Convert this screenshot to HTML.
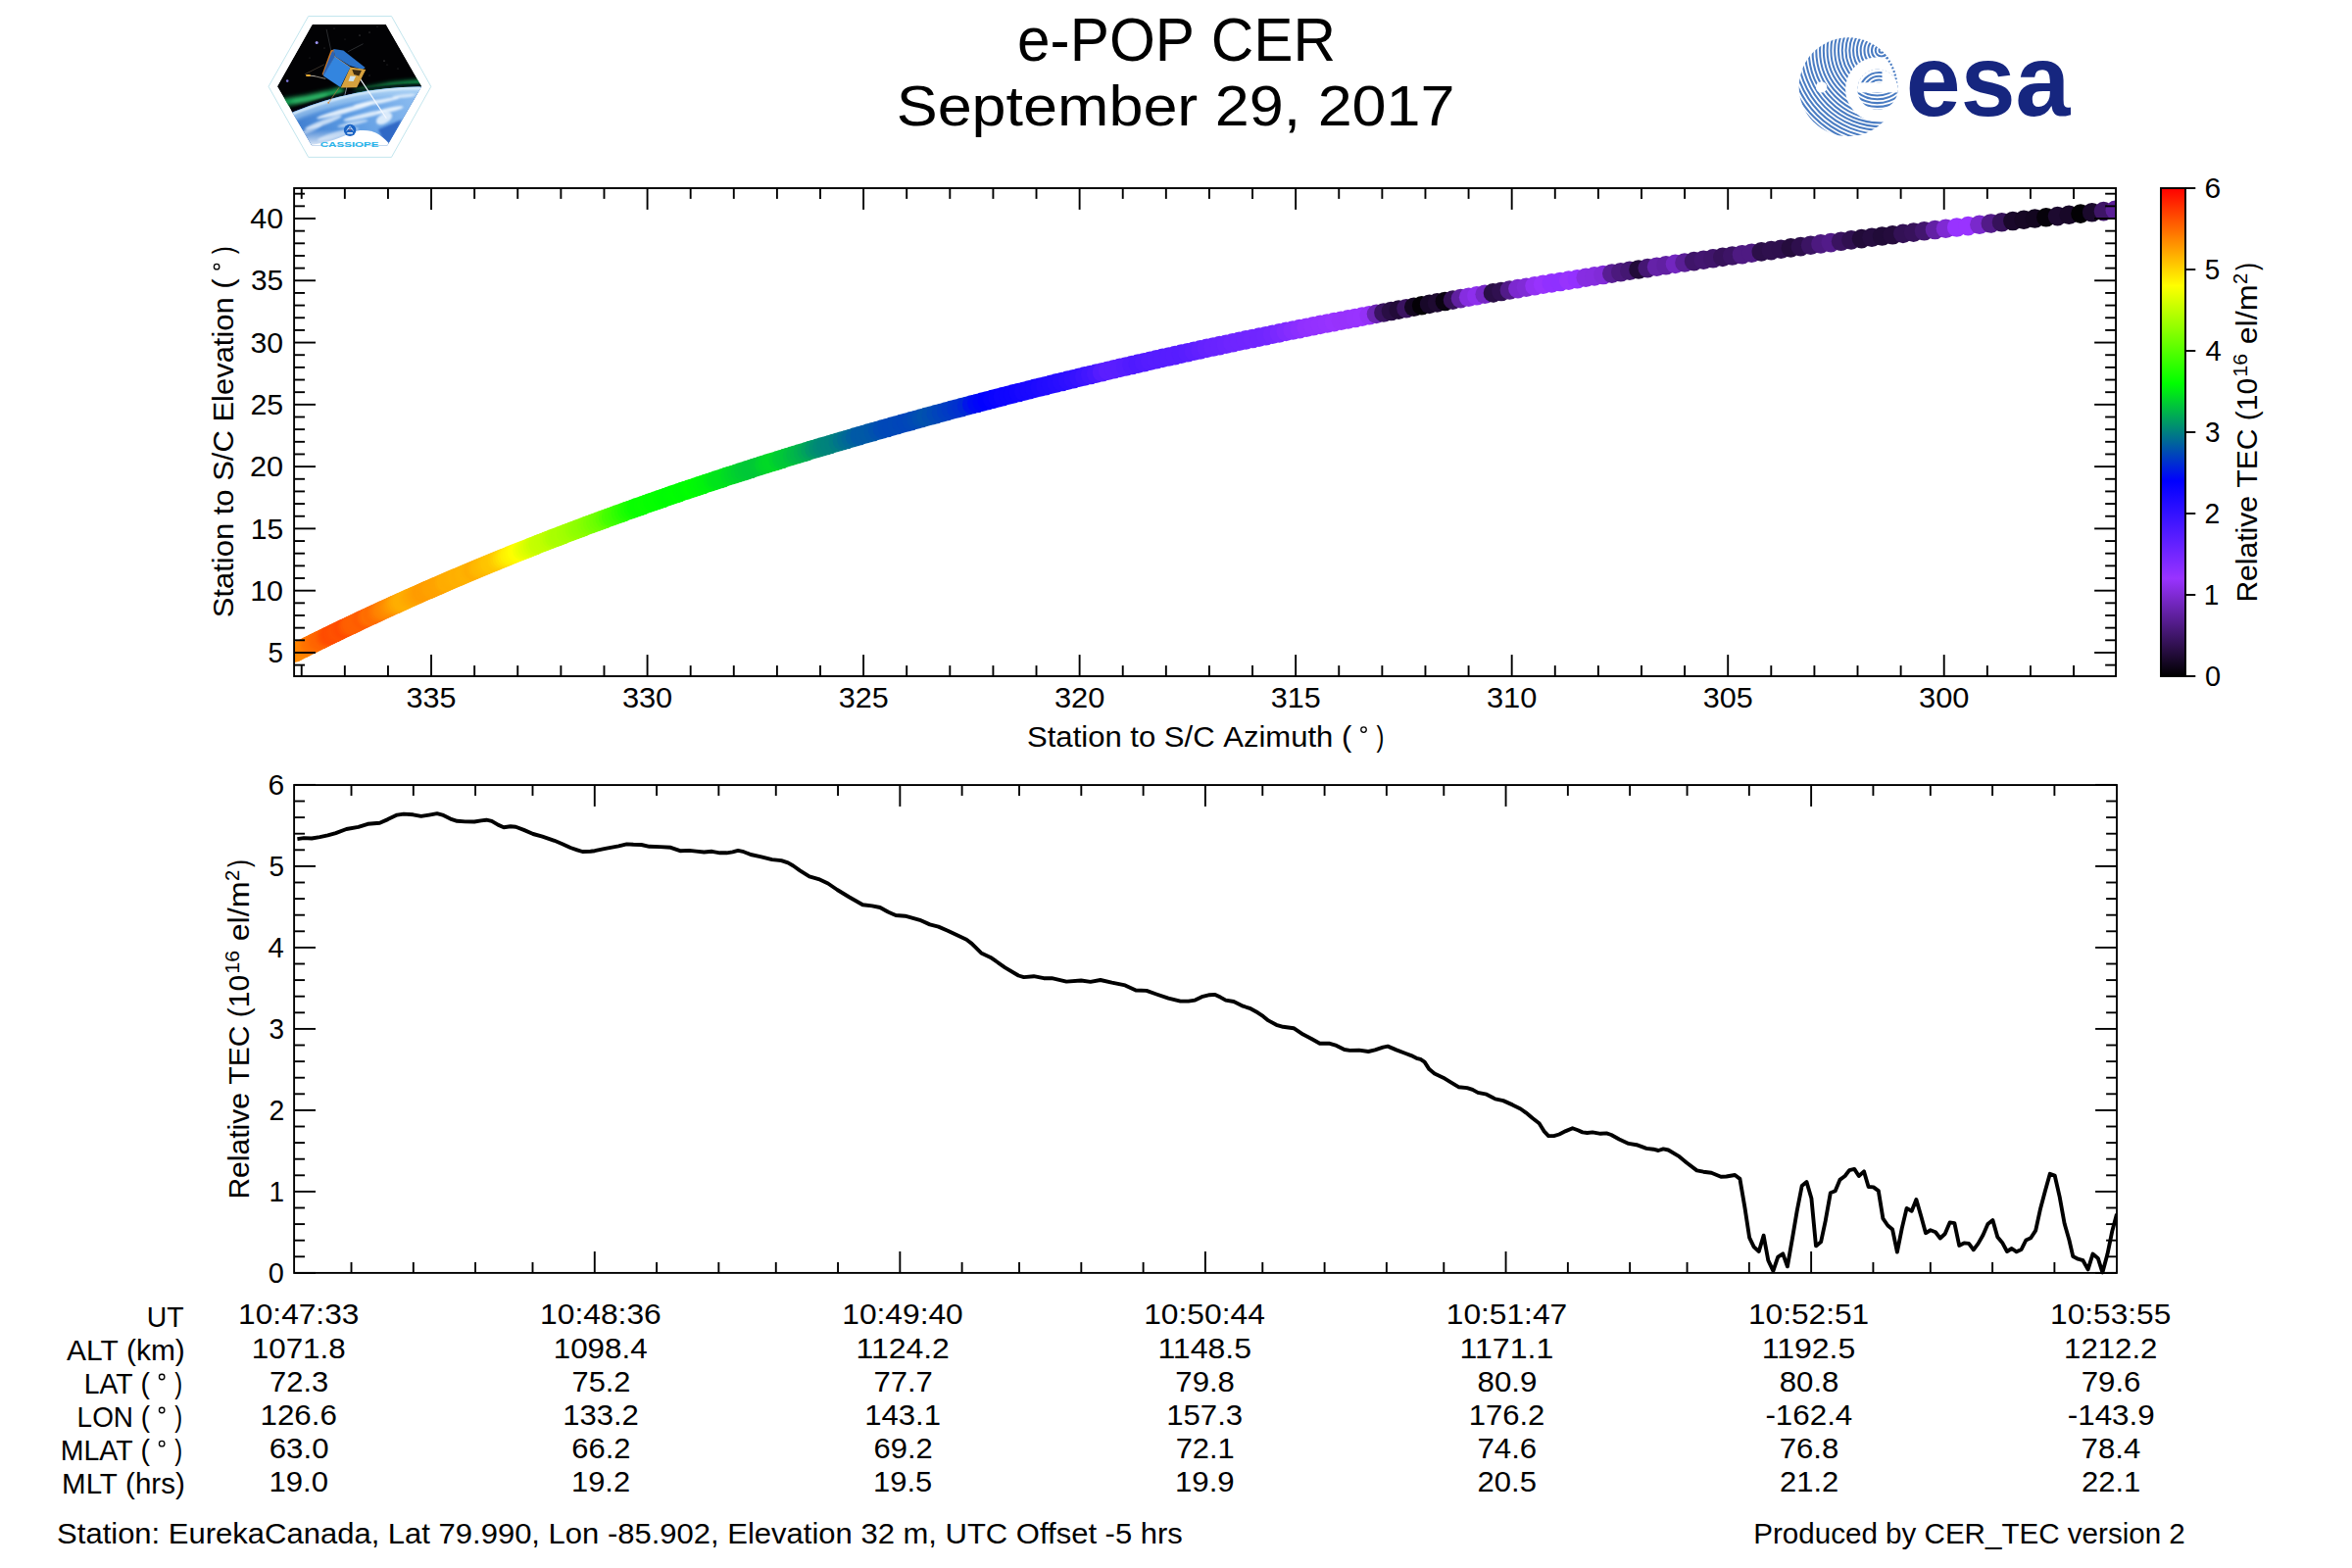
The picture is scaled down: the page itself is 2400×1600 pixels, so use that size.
<!DOCTYPE html>
<html><head><meta charset="utf-8"><title>e-POP CER September 29, 2017</title>
<style>html,body{margin:0;padding:0;background:#fff}svg{display:block}text{font-family:"Liberation Sans",sans-serif}</style>
</head><body>
<svg width="2400" height="1600" viewBox="0 0 2400 1600">
<rect width="2400" height="1600" fill="#fff"/>
<clipPath id="ctop"><rect x="300.1" y="192.0" width="1858.95" height="498.0"/></clipPath>
<g clip-path="url(#ctop)">
<circle cx="300.1" cy="666.3" r="9.8" fill="#ff8d00"/>
<circle cx="301.7" cy="665.5" r="9.8" fill="#ff8d00"/>
<circle cx="303.3" cy="664.7" r="9.8" fill="#ff8b00"/>
<circle cx="304.9" cy="663.9" r="9.8" fill="#ff8b00"/>
<circle cx="306.4" cy="663.1" r="9.8" fill="#ff8b00"/>
<circle cx="308.1" cy="662.3" r="9.8" fill="#ff8900"/>
<circle cx="309.7" cy="661.5" r="9.8" fill="#ff8700"/>
<circle cx="311.3" cy="660.7" r="9.8" fill="#ff8400"/>
<circle cx="312.9" cy="659.9" r="9.8" fill="#ff8000"/>
<circle cx="314.5" cy="659.1" r="9.8" fill="#ff7d00"/>
<circle cx="316.2" cy="658.3" r="9.8" fill="#ff7800"/>
<circle cx="317.8" cy="657.5" r="9.8" fill="#ff7300"/>
<circle cx="319.5" cy="656.6" r="9.8" fill="#ff7100"/>
<circle cx="321.1" cy="655.8" r="9.8" fill="#ff6f00"/>
<circle cx="322.8" cy="655.0" r="9.8" fill="#ff6c00"/>
<circle cx="324.5" cy="654.1" r="9.8" fill="#ff6800"/>
<circle cx="326.2" cy="653.3" r="9.8" fill="#ff6600"/>
<circle cx="327.9" cy="652.5" r="9.8" fill="#ff6400"/>
<circle cx="329.7" cy="651.6" r="9.8" fill="#ff6300"/>
<circle cx="331.4" cy="650.8" r="9.8" fill="#ff5e00"/>
<circle cx="333.2" cy="649.9" r="9.8" fill="#ff5800"/>
<circle cx="334.9" cy="649.0" r="9.8" fill="#ff5200"/>
<circle cx="336.7" cy="648.2" r="9.8" fill="#ff4e00"/>
<circle cx="338.5" cy="647.3" r="9.8" fill="#ff4c00"/>
<circle cx="340.3" cy="646.4" r="9.8" fill="#ff4d00"/>
<circle cx="342.2" cy="645.5" r="9.8" fill="#ff4e00"/>
<circle cx="344.0" cy="644.6" r="9.8" fill="#ff5000"/>
<circle cx="345.9" cy="643.7" r="9.8" fill="#ff5100"/>
<circle cx="347.7" cy="642.8" r="9.8" fill="#ff4f00"/>
<circle cx="349.6" cy="641.9" r="9.8" fill="#ff4d00"/>
<circle cx="351.5" cy="641.0" r="9.8" fill="#ff4b00"/>
<circle cx="353.3" cy="640.2" r="9.8" fill="#ff4e00"/>
<circle cx="355.2" cy="639.3" r="9.8" fill="#ff5400"/>
<circle cx="357.1" cy="638.4" r="9.8" fill="#ff5a00"/>
<circle cx="359.0" cy="637.5" r="9.8" fill="#ff5e00"/>
<circle cx="360.9" cy="636.6" r="9.8" fill="#ff5f00"/>
<circle cx="362.8" cy="635.7" r="9.8" fill="#ff6000"/>
<circle cx="364.7" cy="634.7" r="9.8" fill="#ff6000"/>
<circle cx="366.6" cy="633.8" r="9.8" fill="#ff6000"/>
<circle cx="368.5" cy="632.9" r="9.8" fill="#ff5e00"/>
<circle cx="370.5" cy="632.0" r="9.8" fill="#ff5c00"/>
<circle cx="372.4" cy="631.1" r="9.8" fill="#ff5d00"/>
<circle cx="374.3" cy="630.2" r="9.8" fill="#ff6300"/>
<circle cx="376.3" cy="629.3" r="9.8" fill="#ff6a00"/>
<circle cx="378.2" cy="628.4" r="9.8" fill="#ff6f00"/>
<circle cx="380.2" cy="627.5" r="9.8" fill="#ff6d00"/>
<circle cx="382.1" cy="626.6" r="9.8" fill="#ff6d00"/>
<circle cx="384.1" cy="625.7" r="9.8" fill="#ff7000"/>
<circle cx="386.1" cy="624.8" r="9.8" fill="#ff7500"/>
<circle cx="388.1" cy="623.8" r="9.8" fill="#ff7a00"/>
<circle cx="390.1" cy="622.9" r="9.8" fill="#ff8000"/>
<circle cx="392.0" cy="622.0" r="9.8" fill="#ff8400"/>
<circle cx="394.0" cy="621.1" r="9.8" fill="#ff8700"/>
<circle cx="396.1" cy="620.2" r="9.8" fill="#ff8b00"/>
<circle cx="398.1" cy="619.3" r="9.8" fill="#ff8f00"/>
<circle cx="400.1" cy="618.3" r="9.8" fill="#ff9400"/>
<circle cx="402.1" cy="617.4" r="9.8" fill="#ff9900"/>
<circle cx="404.2" cy="616.5" r="9.8" fill="#ff9f00"/>
<circle cx="406.2" cy="615.6" r="9.8" fill="#ffa500"/>
<circle cx="408.3" cy="614.6" r="9.8" fill="#ffa900"/>
<circle cx="410.3" cy="613.7" r="9.8" fill="#ffad00"/>
<circle cx="412.4" cy="612.8" r="9.8" fill="#ffae00"/>
<circle cx="414.5" cy="611.8" r="9.8" fill="#ffae00"/>
<circle cx="416.5" cy="610.9" r="9.8" fill="#ffac00"/>
<circle cx="418.6" cy="610.0" r="9.8" fill="#ffaa00"/>
<circle cx="420.7" cy="609.0" r="9.8" fill="#ffa700"/>
<circle cx="422.8" cy="608.1" r="9.8" fill="#ffa500"/>
<circle cx="425.0" cy="607.2" r="9.8" fill="#ffa200"/>
<circle cx="427.1" cy="606.2" r="9.8" fill="#ffa000"/>
<circle cx="429.2" cy="605.3" r="9.8" fill="#ff9d00"/>
<circle cx="431.4" cy="604.3" r="9.8" fill="#ff9b00"/>
<circle cx="433.5" cy="603.4" r="9.8" fill="#ff9c00"/>
<circle cx="435.7" cy="602.4" r="9.8" fill="#ff9c00"/>
<circle cx="437.8" cy="601.5" r="9.8" fill="#ff9d00"/>
<circle cx="440.0" cy="600.5" r="9.8" fill="#ffa000"/>
<circle cx="442.2" cy="599.6" r="9.8" fill="#ffa100"/>
<circle cx="444.4" cy="598.6" r="9.8" fill="#ffa200"/>
<circle cx="446.6" cy="597.7" r="9.8" fill="#ffa200"/>
<circle cx="448.8" cy="596.7" r="9.8" fill="#ffa300"/>
<circle cx="451.0" cy="595.7" r="9.8" fill="#ffa400"/>
<circle cx="453.3" cy="594.8" r="9.8" fill="#ffa800"/>
<circle cx="455.5" cy="593.8" r="9.8" fill="#ffac00"/>
<circle cx="457.7" cy="592.8" r="9.8" fill="#ffac00"/>
<circle cx="460.0" cy="591.9" r="9.8" fill="#ffac00"/>
<circle cx="462.3" cy="590.9" r="9.8" fill="#ffad00"/>
<circle cx="464.6" cy="589.9" r="9.8" fill="#ffae00"/>
<circle cx="466.9" cy="589.0" r="9.8" fill="#ffb000"/>
<circle cx="469.2" cy="588.0" r="9.8" fill="#ffaf00"/>
<circle cx="471.5" cy="587.0" r="9.8" fill="#ffaf00"/>
<circle cx="473.8" cy="586.0" r="9.8" fill="#ffb100"/>
<circle cx="476.1" cy="585.0" r="9.8" fill="#ffb200"/>
<circle cx="478.5" cy="584.0" r="9.8" fill="#ffb100"/>
<circle cx="480.8" cy="583.1" r="9.8" fill="#ffaf00"/>
<circle cx="483.2" cy="582.1" r="9.8" fill="#ffac00"/>
<circle cx="485.6" cy="581.1" r="9.8" fill="#ffae00"/>
<circle cx="487.9" cy="580.1" r="9.8" fill="#ffb300"/>
<circle cx="490.3" cy="579.1" r="9.8" fill="#ffb700"/>
<circle cx="492.8" cy="578.1" r="9.8" fill="#ffb900"/>
<circle cx="495.2" cy="577.1" r="9.8" fill="#ffbc00"/>
<circle cx="497.6" cy="576.1" r="9.8" fill="#ffbf00"/>
<circle cx="500.0" cy="575.1" r="9.8" fill="#ffc300"/>
<circle cx="502.5" cy="574.1" r="9.8" fill="#ffc400"/>
<circle cx="505.0" cy="573.0" r="9.8" fill="#ffc500"/>
<circle cx="507.4" cy="572.0" r="9.8" fill="#ffc900"/>
<circle cx="509.9" cy="571.0" r="9.8" fill="#ffcf00"/>
<circle cx="512.4" cy="570.0" r="9.8" fill="#ffd700"/>
<circle cx="515.0" cy="569.0" r="9.8" fill="#ffdf00"/>
<circle cx="517.5" cy="568.0" r="9.8" fill="#ffe700"/>
<circle cx="520.0" cy="566.9" r="9.8" fill="#ffef00"/>
<circle cx="522.6" cy="565.9" r="9.8" fill="#fff300"/>
<circle cx="525.1" cy="564.9" r="9.8" fill="#fff700"/>
<circle cx="527.7" cy="563.8" r="9.8" fill="#fffc00"/>
<circle cx="530.3" cy="562.8" r="9.8" fill="#fcff00"/>
<circle cx="532.9" cy="561.8" r="9.8" fill="#f3ff00"/>
<circle cx="535.5" cy="560.7" r="9.8" fill="#ebff00"/>
<circle cx="538.2" cy="559.7" r="9.8" fill="#e3ff00"/>
<circle cx="540.9" cy="558.6" r="9.8" fill="#dcff00"/>
<circle cx="543.6" cy="557.5" r="9.8" fill="#d4ff00"/>
<circle cx="546.3" cy="556.5" r="9.8" fill="#cdff00"/>
<circle cx="549.0" cy="555.4" r="9.8" fill="#c6ff00"/>
<circle cx="551.8" cy="554.3" r="9.8" fill="#c4ff00"/>
<circle cx="554.6" cy="553.2" r="9.8" fill="#c2ff00"/>
<circle cx="557.4" cy="552.1" r="9.8" fill="#c0ff00"/>
<circle cx="560.2" cy="551.0" r="9.8" fill="#bcff00"/>
<circle cx="563.1" cy="549.9" r="9.8" fill="#b6ff00"/>
<circle cx="565.9" cy="548.8" r="9.8" fill="#afff00"/>
<circle cx="568.8" cy="547.7" r="9.8" fill="#aaff00"/>
<circle cx="571.7" cy="546.6" r="9.8" fill="#a8ff00"/>
<circle cx="574.6" cy="545.5" r="9.8" fill="#a8ff00"/>
<circle cx="577.6" cy="544.4" r="9.8" fill="#a4ff00"/>
<circle cx="580.5" cy="543.2" r="9.8" fill="#a1ff00"/>
<circle cx="583.5" cy="542.1" r="9.8" fill="#9eff00"/>
<circle cx="586.5" cy="541.0" r="9.8" fill="#98ff00"/>
<circle cx="589.5" cy="539.8" r="9.8" fill="#93ff00"/>
<circle cx="592.5" cy="538.7" r="9.8" fill="#8fff00"/>
<circle cx="595.6" cy="537.5" r="9.8" fill="#8cff00"/>
<circle cx="598.6" cy="536.4" r="9.8" fill="#87ff00"/>
<circle cx="601.7" cy="535.3" r="9.8" fill="#81ff00"/>
<circle cx="604.8" cy="534.1" r="9.8" fill="#7bff00"/>
<circle cx="607.9" cy="533.0" r="9.8" fill="#75ff00"/>
<circle cx="611.0" cy="531.8" r="9.8" fill="#6fff00"/>
<circle cx="614.2" cy="530.6" r="9.8" fill="#69ff00"/>
<circle cx="617.3" cy="529.5" r="9.8" fill="#60ff00"/>
<circle cx="620.5" cy="528.3" r="9.8" fill="#54ff00"/>
<circle cx="623.6" cy="527.2" r="9.8" fill="#47ff00"/>
<circle cx="626.8" cy="526.0" r="9.8" fill="#41ff00"/>
<circle cx="630.0" cy="524.8" r="9.8" fill="#3bff00"/>
<circle cx="633.3" cy="523.7" r="9.8" fill="#32ff00"/>
<circle cx="636.5" cy="522.5" r="9.8" fill="#2aff00"/>
<circle cx="639.7" cy="521.3" r="9.8" fill="#21ff00"/>
<circle cx="643.0" cy="520.2" r="9.8" fill="#1aff00"/>
<circle cx="646.3" cy="519.0" r="9.8" fill="#12ff00"/>
<circle cx="649.5" cy="517.8" r="9.8" fill="#0bff00"/>
<circle cx="652.8" cy="516.7" r="9.8" fill="#08ff00"/>
<circle cx="656.1" cy="515.5" r="9.8" fill="#09ff00"/>
<circle cx="659.5" cy="514.3" r="9.8" fill="#0aff00"/>
<circle cx="662.8" cy="513.1" r="9.8" fill="#08ff00"/>
<circle cx="666.1" cy="512.0" r="9.8" fill="#05ff00"/>
<circle cx="669.5" cy="510.8" r="9.8" fill="#05ff00"/>
<circle cx="672.8" cy="509.6" r="9.8" fill="#04ff00"/>
<circle cx="676.2" cy="508.5" r="9.8" fill="#01ff00"/>
<circle cx="679.5" cy="507.3" r="9.8" fill="#00fe01"/>
<circle cx="682.9" cy="506.1" r="9.8" fill="#00fb04"/>
<circle cx="686.3" cy="504.9" r="9.8" fill="#00fc03"/>
<circle cx="689.7" cy="503.8" r="9.8" fill="#00fd02"/>
<circle cx="693.1" cy="502.6" r="9.8" fill="#00fe01"/>
<circle cx="696.5" cy="501.4" r="9.8" fill="#00fc03"/>
<circle cx="700.0" cy="500.3" r="9.8" fill="#00fb04"/>
<circle cx="703.4" cy="499.1" r="9.8" fill="#00fd02"/>
<circle cx="706.8" cy="498.0" r="9.8" fill="#00ff00"/>
<circle cx="710.3" cy="496.8" r="9.8" fill="#00fc03"/>
<circle cx="713.7" cy="495.6" r="9.8" fill="#00f906"/>
<circle cx="717.2" cy="494.5" r="9.8" fill="#00f708"/>
<circle cx="720.6" cy="493.3" r="9.8" fill="#00f40b"/>
<circle cx="724.1" cy="492.2" r="9.8" fill="#00f20d"/>
<circle cx="727.6" cy="491.0" r="9.8" fill="#00ed12"/>
<circle cx="731.0" cy="489.9" r="9.8" fill="#00e718"/>
<circle cx="734.5" cy="488.7" r="9.8" fill="#00e41b"/>
<circle cx="738.0" cy="487.6" r="9.8" fill="#00e41b"/>
<circle cx="741.5" cy="486.4" r="9.8" fill="#00e21d"/>
<circle cx="745.0" cy="485.3" r="9.8" fill="#00dd22"/>
<circle cx="748.5" cy="484.2" r="9.8" fill="#00d926"/>
<circle cx="752.0" cy="483.0" r="9.8" fill="#00d52a"/>
<circle cx="755.5" cy="481.9" r="9.8" fill="#00d12e"/>
<circle cx="759.0" cy="480.8" r="9.8" fill="#00cd32"/>
<circle cx="762.5" cy="479.6" r="9.8" fill="#00ca35"/>
<circle cx="766.0" cy="478.5" r="9.8" fill="#00c837"/>
<circle cx="769.5" cy="477.4" r="9.8" fill="#00c837"/>
<circle cx="773.0" cy="476.3" r="9.8" fill="#00c936"/>
<circle cx="776.5" cy="475.1" r="9.8" fill="#00cb34"/>
<circle cx="780.0" cy="474.0" r="9.8" fill="#00d22d"/>
<circle cx="783.5" cy="472.9" r="9.8" fill="#00d629"/>
<circle cx="787.0" cy="471.8" r="9.8" fill="#00d827"/>
<circle cx="790.6" cy="470.7" r="9.8" fill="#00d926"/>
<circle cx="794.1" cy="469.6" r="9.8" fill="#00d32c"/>
<circle cx="797.7" cy="468.5" r="9.8" fill="#00cc33"/>
<circle cx="801.2" cy="467.4" r="9.8" fill="#00c936"/>
<circle cx="804.8" cy="466.3" r="9.8" fill="#00c738"/>
<circle cx="808.5" cy="465.1" r="9.8" fill="#00c13e"/>
<circle cx="812.1" cy="464.0" r="9.8" fill="#00bb44"/>
<circle cx="815.8" cy="462.9" r="9.8" fill="#00b748"/>
<circle cx="819.6" cy="461.7" r="9.8" fill="#00b14e"/>
<circle cx="823.3" cy="460.6" r="9.8" fill="#00aa55"/>
<circle cx="827.1" cy="459.4" r="9.8" fill="#00a25d"/>
<circle cx="831.0" cy="458.3" r="9.8" fill="#009867"/>
<circle cx="834.9" cy="457.1" r="9.8" fill="#00906f"/>
<circle cx="838.9" cy="455.9" r="9.8" fill="#008a75"/>
<circle cx="842.9" cy="454.7" r="9.8" fill="#008679"/>
<circle cx="846.9" cy="453.5" r="9.8" fill="#00847b"/>
<circle cx="851.1" cy="452.2" r="9.8" fill="#00827d"/>
<circle cx="855.3" cy="451.0" r="9.8" fill="#007d82"/>
<circle cx="859.5" cy="449.7" r="9.8" fill="#00758a"/>
<circle cx="863.9" cy="448.5" r="9.8" fill="#006e91"/>
<circle cx="868.3" cy="447.2" r="9.8" fill="#006897"/>
<circle cx="872.7" cy="445.9" r="9.8" fill="#00609f"/>
<circle cx="877.2" cy="444.6" r="9.8" fill="#0059a6"/>
<circle cx="881.8" cy="443.2" r="9.8" fill="#0059a6"/>
<circle cx="886.4" cy="441.9" r="9.8" fill="#0059a6"/>
<circle cx="891.1" cy="440.6" r="9.8" fill="#0056a9"/>
<circle cx="895.8" cy="439.2" r="9.8" fill="#0051ae"/>
<circle cx="900.5" cy="437.9" r="9.8" fill="#004bb4"/>
<circle cx="905.4" cy="436.5" r="9.8" fill="#0048b7"/>
<circle cx="910.2" cy="435.1" r="9.8" fill="#0047b8"/>
<circle cx="915.1" cy="433.7" r="9.8" fill="#0048b7"/>
<circle cx="920.0" cy="432.4" r="9.8" fill="#0046b9"/>
<circle cx="925.0" cy="431.0" r="9.8" fill="#0045ba"/>
<circle cx="930.0" cy="429.6" r="9.8" fill="#0047b8"/>
<circle cx="935.0" cy="428.2" r="9.8" fill="#004ab5"/>
<circle cx="940.1" cy="426.8" r="9.8" fill="#004eb1"/>
<circle cx="945.2" cy="425.4" r="9.8" fill="#0052ad"/>
<circle cx="950.3" cy="424.0" r="9.8" fill="#004eb1"/>
<circle cx="955.4" cy="422.6" r="9.8" fill="#0049b6"/>
<circle cx="960.6" cy="421.2" r="9.8" fill="#0044bb"/>
<circle cx="965.8" cy="419.8" r="9.8" fill="#003fc0"/>
<circle cx="970.9" cy="418.4" r="9.8" fill="#003bc4"/>
<circle cx="976.1" cy="417.0" r="9.8" fill="#0035ca"/>
<circle cx="981.4" cy="415.6" r="9.8" fill="#0031ce"/>
<circle cx="986.6" cy="414.2" r="9.8" fill="#0028d7"/>
<circle cx="991.8" cy="412.8" r="9.8" fill="#0015ea"/>
<circle cx="997.0" cy="411.5" r="9.8" fill="#000bf4"/>
<circle cx="1002.3" cy="410.1" r="9.8" fill="#0005fa"/>
<circle cx="1007.5" cy="408.7" r="9.8" fill="#0100ff"/>
<circle cx="1012.8" cy="407.4" r="9.8" fill="#0502ff"/>
<circle cx="1018.1" cy="406.0" r="9.8" fill="#0a03ff"/>
<circle cx="1023.4" cy="404.6" r="9.8" fill="#0e05ff"/>
<circle cx="1028.7" cy="403.3" r="9.8" fill="#0f05ff"/>
<circle cx="1034.0" cy="401.9" r="9.8" fill="#1005ff"/>
<circle cx="1039.4" cy="400.5" r="9.8" fill="#1306ff"/>
<circle cx="1044.8" cy="399.2" r="9.8" fill="#1708ff"/>
<circle cx="1050.3" cy="397.8" r="9.8" fill="#1908ff"/>
<circle cx="1055.8" cy="396.4" r="9.8" fill="#1a09ff"/>
<circle cx="1061.3" cy="395.0" r="9.8" fill="#1e0aff"/>
<circle cx="1066.8" cy="393.7" r="9.8" fill="#220bff"/>
<circle cx="1072.4" cy="392.3" r="9.8" fill="#230cff"/>
<circle cx="1078.0" cy="390.9" r="9.8" fill="#260dff"/>
<circle cx="1083.7" cy="389.5" r="9.8" fill="#290eff"/>
<circle cx="1089.4" cy="388.1" r="9.8" fill="#2d0fff"/>
<circle cx="1095.2" cy="386.7" r="9.8" fill="#3110ff"/>
<circle cx="1101.0" cy="385.3" r="9.8" fill="#3612ff"/>
<circle cx="1106.8" cy="383.9" r="9.8" fill="#3c14ff"/>
<circle cx="1112.7" cy="382.5" r="9.8" fill="#4216ff"/>
<circle cx="1118.6" cy="381.1" r="9.8" fill="#4818ff"/>
<circle cx="1124.6" cy="379.7" r="9.8" fill="#541cff"/>
<circle cx="1130.6" cy="378.2" r="9.8" fill="#5b1eff"/>
<circle cx="1136.7" cy="376.8" r="9.8" fill="#5b1eff"/>
<circle cx="1142.8" cy="375.4" r="9.8" fill="#591eff"/>
<circle cx="1148.9" cy="374.0" r="9.8" fill="#561dff"/>
<circle cx="1155.1" cy="372.5" r="9.8" fill="#521bff"/>
<circle cx="1161.3" cy="371.1" r="9.8" fill="#4f1aff"/>
<circle cx="1167.5" cy="369.7" r="9.8" fill="#521bff"/>
<circle cx="1173.7" cy="368.3" r="9.8" fill="#551cff"/>
<circle cx="1180.0" cy="366.8" r="9.8" fill="#561dff"/>
<circle cx="1186.3" cy="365.4" r="9.8" fill="#561dff"/>
<circle cx="1192.7" cy="364.0" r="9.8" fill="#571dff"/>
<circle cx="1199.1" cy="362.6" r="9.8" fill="#581dff"/>
<circle cx="1205.5" cy="361.1" r="9.8" fill="#571dff"/>
<circle cx="1211.9" cy="359.7" r="9.8" fill="#591eff"/>
<circle cx="1218.4" cy="358.3" r="9.8" fill="#5d1fff"/>
<circle cx="1224.9" cy="356.9" r="9.8" fill="#6120ff"/>
<circle cx="1231.5" cy="355.4" r="9.8" fill="#6522ff"/>
<circle cx="1238.0" cy="354.0" r="9.8" fill="#6823ff"/>
<circle cx="1244.6" cy="352.6" r="9.8" fill="#6923ff"/>
<circle cx="1251.2" cy="351.2" r="9.8" fill="#6b24ff"/>
<circle cx="1257.9" cy="349.8" r="9.8" fill="#6e25ff"/>
<circle cx="1264.6" cy="348.3" r="9.8" fill="#6f25ff"/>
<circle cx="1271.3" cy="346.9" r="9.8" fill="#7025ff"/>
<circle cx="1278.1" cy="345.5" r="9.8" fill="#7226ff"/>
<circle cx="1284.8" cy="344.1" r="9.8" fill="#7025ff"/>
<circle cx="1291.7" cy="342.7" r="9.8" fill="#7126ff"/>
<circle cx="1298.5" cy="341.3" r="9.8" fill="#7527ff"/>
<circle cx="1305.4" cy="339.9" r="9.8" fill="#7a29ff"/>
<circle cx="1312.3" cy="338.4" r="9.8" fill="#802bff"/>
<circle cx="1319.2" cy="337.0" r="9.8" fill="#862dff"/>
<circle cx="1326.1" cy="335.6" r="9.8" fill="#8b2eff"/>
<circle cx="1333.1" cy="334.2" r="9.8" fill="#9130ff"/>
<circle cx="1340.1" cy="332.8" r="9.8" fill="#9331ff"/>
<circle cx="1347.2" cy="331.4" r="9.8" fill="#9431ff"/>
<circle cx="1354.2" cy="330.0" r="9.8" fill="#9532ff"/>
<circle cx="1361.3" cy="328.6" r="9.8" fill="#9833ff"/>
<circle cx="1368.5" cy="327.3" r="9.8" fill="#9732fc"/>
<circle cx="1375.6" cy="325.9" r="9.8" fill="#9732fc"/>
<circle cx="1382.8" cy="324.5" r="9.8" fill="#9833fe"/>
<circle cx="1390.0" cy="323.1" r="9.8" fill="#9933ff"/>
<circle cx="1397.2" cy="321.7" r="9.8" fill="#9431f6"/>
<circle cx="1404.5" cy="320.4" r="9.8" fill="#6b24b2"/>
<circle cx="1411.9" cy="319.0" r="9.8" fill="#3a1361"/>
<circle cx="1419.5" cy="317.5" r="9.8" fill="#290e44"/>
<circle cx="1427.2" cy="316.1" r="9.8" fill="#220b38"/>
<circle cx="1435.0" cy="314.7" r="9.8" fill="#3a1360"/>
<circle cx="1442.8" cy="313.2" r="9.8" fill="#130620"/>
<circle cx="1450.7" cy="311.8" r="9.8" fill="#040106"/>
<circle cx="1458.6" cy="310.4" r="9.8" fill="#180829"/>
<circle cx="1466.5" cy="308.9" r="9.8" fill="#1e0a31"/>
<circle cx="1474.4" cy="307.5" r="9.8" fill="#0a0311"/>
<circle cx="1482.5" cy="306.1" r="9.8" fill="#341156"/>
<circle cx="1490.5" cy="304.6" r="9.8" fill="#6020a0"/>
<circle cx="1498.7" cy="303.2" r="9.8" fill="#862de0"/>
<circle cx="1506.9" cy="301.8" r="9.8" fill="#8e2fed"/>
<circle cx="1515.2" cy="300.3" r="9.8" fill="#7627c5"/>
<circle cx="1523.5" cy="298.9" r="9.8" fill="#2a0e46"/>
<circle cx="1531.9" cy="297.5" r="9.8" fill="#301050"/>
<circle cx="1540.4" cy="296.0" r="9.8" fill="#521b89"/>
<circle cx="1548.9" cy="294.6" r="9.8" fill="#7c29cf"/>
<circle cx="1557.4" cy="293.2" r="9.8" fill="#802bd6"/>
<circle cx="1566.0" cy="291.8" r="9.8" fill="#9231f3"/>
<circle cx="1574.6" cy="290.3" r="9.8" fill="#9833fd"/>
<circle cx="1583.3" cy="288.9" r="9.8" fill="#9130ff"/>
<circle cx="1592.0" cy="287.5" r="9.8" fill="#8f30ff"/>
<circle cx="1600.7" cy="286.1" r="9.8" fill="#9833fd"/>
<circle cx="1609.4" cy="284.7" r="9.8" fill="#9431ff"/>
<circle cx="1618.2" cy="283.3" r="9.8" fill="#872de2"/>
<circle cx="1627.0" cy="281.9" r="9.8" fill="#862de0"/>
<circle cx="1635.9" cy="280.5" r="9.8" fill="#812bd8"/>
<circle cx="1644.8" cy="279.1" r="9.8" fill="#581d93"/>
<circle cx="1653.8" cy="277.7" r="9.8" fill="#4b197d"/>
<circle cx="1662.9" cy="276.3" r="9.8" fill="#441772"/>
<circle cx="1672.0" cy="275.0" r="9.8" fill="#220b39"/>
<circle cx="1681.2" cy="273.6" r="9.8" fill="#451773"/>
<circle cx="1690.6" cy="272.2" r="9.8" fill="#6522a8"/>
<circle cx="1700.0" cy="270.8" r="9.8" fill="#6120a2"/>
<circle cx="1709.5" cy="269.4" r="9.8" fill="#7226bf"/>
<circle cx="1719.0" cy="268.0" r="9.8" fill="#5a1e96"/>
<circle cx="1728.6" cy="266.6" r="9.8" fill="#3f1569"/>
<circle cx="1738.3" cy="265.2" r="9.8" fill="#431670"/>
<circle cx="1748.0" cy="263.8" r="9.8" fill="#40156b"/>
<circle cx="1757.8" cy="262.4" r="9.8" fill="#37125b"/>
<circle cx="1767.6" cy="261.0" r="9.8" fill="#3d1466"/>
<circle cx="1777.5" cy="259.7" r="9.8" fill="#4e1a82"/>
<circle cx="1787.4" cy="258.3" r="9.8" fill="#4e1a82"/>
<circle cx="1797.3" cy="256.9" r="9.8" fill="#2c0f49"/>
<circle cx="1807.3" cy="255.6" r="9.8" fill="#2f104e"/>
<circle cx="1817.3" cy="254.3" r="9.8" fill="#2e0f4d"/>
<circle cx="1827.3" cy="252.9" r="9.8" fill="#250c3d"/>
<circle cx="1837.4" cy="251.6" r="9.8" fill="#2e0f4d"/>
<circle cx="1847.6" cy="250.2" r="9.8" fill="#3b1463"/>
<circle cx="1857.9" cy="248.9" r="9.8" fill="#4c197f"/>
<circle cx="1868.2" cy="247.6" r="9.8" fill="#521b89"/>
<circle cx="1878.6" cy="246.3" r="9.8" fill="#3a1360"/>
<circle cx="1889.0" cy="244.9" r="9.8" fill="#301050"/>
<circle cx="1899.5" cy="243.6" r="9.8" fill="#220b39"/>
<circle cx="1910.0" cy="242.3" r="9.8" fill="#260d40"/>
<circle cx="1920.5" cy="241.0" r="9.8" fill="#210b38"/>
<circle cx="1931.2" cy="239.7" r="9.8" fill="#250c3d"/>
<circle cx="1941.9" cy="238.4" r="9.8" fill="#331155"/>
<circle cx="1952.6" cy="237.1" r="9.8" fill="#37125b"/>
<circle cx="1963.5" cy="235.8" r="9.8" fill="#42166e"/>
<circle cx="1974.5" cy="234.5" r="9.8" fill="#6221a4"/>
<circle cx="1985.5" cy="233.2" r="9.8" fill="#7f2ad3"/>
<circle cx="1996.7" cy="232.0" r="9.8" fill="#9833ff"/>
<circle cx="2008.2" cy="230.6" r="9.8" fill="#9933ff"/>
<circle cx="2019.9" cy="229.3" r="9.8" fill="#7a29cc"/>
<circle cx="2031.3" cy="228.0" r="9.8" fill="#521b88"/>
<circle cx="2042.6" cy="226.8" r="9.8" fill="#36125a"/>
<circle cx="2053.9" cy="225.5" r="9.8" fill="#19082a"/>
<circle cx="2065.1" cy="224.3" r="9.8" fill="#160724"/>
<circle cx="2076.4" cy="223.0" r="9.8" fill="#130620"/>
<circle cx="2087.9" cy="221.8" r="9.8" fill="#06020a"/>
<circle cx="2099.5" cy="220.6" r="9.8" fill="#1d0a30"/>
<circle cx="2111.2" cy="219.3" r="9.8" fill="#180828"/>
<circle cx="2123.0" cy="218.1" r="9.8" fill="#020104"/>
<circle cx="2134.7" cy="216.8" r="9.8" fill="#1a092c"/>
<circle cx="2146.5" cy="215.6" r="9.8" fill="#3e1567"/>
<circle cx="2158.3" cy="214.4" r="9.8" fill="#5a1e97"/>
</g>
<line x1="2116.04" y1="690.00" x2="2116.04" y2="679.10" stroke="#000" stroke-width="1.9" />
<line x1="2116.04" y1="192.00" x2="2116.04" y2="202.90" stroke="#000" stroke-width="1.9" />
<line x1="2071.93" y1="690.00" x2="2071.93" y2="679.10" stroke="#000" stroke-width="1.9" />
<line x1="2071.93" y1="192.00" x2="2071.93" y2="202.90" stroke="#000" stroke-width="1.9" />
<line x1="2027.83" y1="690.00" x2="2027.83" y2="679.10" stroke="#000" stroke-width="1.9" />
<line x1="2027.83" y1="192.00" x2="2027.83" y2="202.90" stroke="#000" stroke-width="1.9" />
<line x1="1983.72" y1="690.00" x2="1983.72" y2="668.10" stroke="#000" stroke-width="1.9" />
<line x1="1983.72" y1="192.00" x2="1983.72" y2="213.90" stroke="#000" stroke-width="1.9" />
<text x="1958.05" y="721.80" font-size="29.45" textLength="51.36" lengthAdjust="spacingAndGlyphs" fill="#000" >300</text>
<line x1="1939.62" y1="690.00" x2="1939.62" y2="679.10" stroke="#000" stroke-width="1.9" />
<line x1="1939.62" y1="192.00" x2="1939.62" y2="202.90" stroke="#000" stroke-width="1.9" />
<line x1="1895.51" y1="690.00" x2="1895.51" y2="679.10" stroke="#000" stroke-width="1.9" />
<line x1="1895.51" y1="192.00" x2="1895.51" y2="202.90" stroke="#000" stroke-width="1.9" />
<line x1="1851.41" y1="690.00" x2="1851.41" y2="679.10" stroke="#000" stroke-width="1.9" />
<line x1="1851.41" y1="192.00" x2="1851.41" y2="202.90" stroke="#000" stroke-width="1.9" />
<line x1="1807.30" y1="690.00" x2="1807.30" y2="679.10" stroke="#000" stroke-width="1.9" />
<line x1="1807.30" y1="192.00" x2="1807.30" y2="202.90" stroke="#000" stroke-width="1.9" />
<line x1="1763.20" y1="690.00" x2="1763.20" y2="668.10" stroke="#000" stroke-width="1.9" />
<line x1="1763.20" y1="192.00" x2="1763.20" y2="213.90" stroke="#000" stroke-width="1.9" />
<text x="1737.78" y="721.80" font-size="29.45" textLength="50.97" lengthAdjust="spacingAndGlyphs" fill="#000" >305</text>
<line x1="1719.09" y1="690.00" x2="1719.09" y2="679.10" stroke="#000" stroke-width="1.9" />
<line x1="1719.09" y1="192.00" x2="1719.09" y2="202.90" stroke="#000" stroke-width="1.9" />
<line x1="1674.99" y1="690.00" x2="1674.99" y2="679.10" stroke="#000" stroke-width="1.9" />
<line x1="1674.99" y1="192.00" x2="1674.99" y2="202.90" stroke="#000" stroke-width="1.9" />
<line x1="1630.88" y1="690.00" x2="1630.88" y2="679.10" stroke="#000" stroke-width="1.9" />
<line x1="1630.88" y1="192.00" x2="1630.88" y2="202.90" stroke="#000" stroke-width="1.9" />
<line x1="1586.78" y1="690.00" x2="1586.78" y2="679.10" stroke="#000" stroke-width="1.9" />
<line x1="1586.78" y1="192.00" x2="1586.78" y2="202.90" stroke="#000" stroke-width="1.9" />
<line x1="1542.67" y1="690.00" x2="1542.67" y2="668.10" stroke="#000" stroke-width="1.9" />
<line x1="1542.67" y1="192.00" x2="1542.67" y2="213.90" stroke="#000" stroke-width="1.9" />
<text x="1517.00" y="721.80" font-size="29.45" textLength="51.36" lengthAdjust="spacingAndGlyphs" fill="#000" >310</text>
<line x1="1498.57" y1="690.00" x2="1498.57" y2="679.10" stroke="#000" stroke-width="1.9" />
<line x1="1498.57" y1="192.00" x2="1498.57" y2="202.90" stroke="#000" stroke-width="1.9" />
<line x1="1454.46" y1="690.00" x2="1454.46" y2="679.10" stroke="#000" stroke-width="1.9" />
<line x1="1454.46" y1="192.00" x2="1454.46" y2="202.90" stroke="#000" stroke-width="1.9" />
<line x1="1410.36" y1="690.00" x2="1410.36" y2="679.10" stroke="#000" stroke-width="1.9" />
<line x1="1410.36" y1="192.00" x2="1410.36" y2="202.90" stroke="#000" stroke-width="1.9" />
<line x1="1366.25" y1="690.00" x2="1366.25" y2="679.10" stroke="#000" stroke-width="1.9" />
<line x1="1366.25" y1="192.00" x2="1366.25" y2="202.90" stroke="#000" stroke-width="1.9" />
<line x1="1322.15" y1="690.00" x2="1322.15" y2="668.10" stroke="#000" stroke-width="1.9" />
<line x1="1322.15" y1="192.00" x2="1322.15" y2="213.90" stroke="#000" stroke-width="1.9" />
<text x="1296.73" y="721.80" font-size="29.45" textLength="50.97" lengthAdjust="spacingAndGlyphs" fill="#000" >315</text>
<line x1="1278.04" y1="690.00" x2="1278.04" y2="679.10" stroke="#000" stroke-width="1.9" />
<line x1="1278.04" y1="192.00" x2="1278.04" y2="202.90" stroke="#000" stroke-width="1.9" />
<line x1="1233.94" y1="690.00" x2="1233.94" y2="679.10" stroke="#000" stroke-width="1.9" />
<line x1="1233.94" y1="192.00" x2="1233.94" y2="202.90" stroke="#000" stroke-width="1.9" />
<line x1="1189.84" y1="690.00" x2="1189.84" y2="679.10" stroke="#000" stroke-width="1.9" />
<line x1="1189.84" y1="192.00" x2="1189.84" y2="202.90" stroke="#000" stroke-width="1.9" />
<line x1="1145.73" y1="690.00" x2="1145.73" y2="679.10" stroke="#000" stroke-width="1.9" />
<line x1="1145.73" y1="192.00" x2="1145.73" y2="202.90" stroke="#000" stroke-width="1.9" />
<line x1="1101.62" y1="690.00" x2="1101.62" y2="668.10" stroke="#000" stroke-width="1.9" />
<line x1="1101.62" y1="192.00" x2="1101.62" y2="213.90" stroke="#000" stroke-width="1.9" />
<text x="1075.95" y="721.80" font-size="29.45" textLength="51.36" lengthAdjust="spacingAndGlyphs" fill="#000" >320</text>
<line x1="1057.52" y1="690.00" x2="1057.52" y2="679.10" stroke="#000" stroke-width="1.9" />
<line x1="1057.52" y1="192.00" x2="1057.52" y2="202.90" stroke="#000" stroke-width="1.9" />
<line x1="1013.41" y1="690.00" x2="1013.41" y2="679.10" stroke="#000" stroke-width="1.9" />
<line x1="1013.41" y1="192.00" x2="1013.41" y2="202.90" stroke="#000" stroke-width="1.9" />
<line x1="969.31" y1="690.00" x2="969.31" y2="679.10" stroke="#000" stroke-width="1.9" />
<line x1="969.31" y1="192.00" x2="969.31" y2="202.90" stroke="#000" stroke-width="1.9" />
<line x1="925.20" y1="690.00" x2="925.20" y2="679.10" stroke="#000" stroke-width="1.9" />
<line x1="925.20" y1="192.00" x2="925.20" y2="202.90" stroke="#000" stroke-width="1.9" />
<line x1="881.10" y1="690.00" x2="881.10" y2="668.10" stroke="#000" stroke-width="1.9" />
<line x1="881.10" y1="192.00" x2="881.10" y2="213.90" stroke="#000" stroke-width="1.9" />
<text x="855.68" y="721.80" font-size="29.45" textLength="50.97" lengthAdjust="spacingAndGlyphs" fill="#000" >325</text>
<line x1="837.00" y1="690.00" x2="837.00" y2="679.10" stroke="#000" stroke-width="1.9" />
<line x1="837.00" y1="192.00" x2="837.00" y2="202.90" stroke="#000" stroke-width="1.9" />
<line x1="792.89" y1="690.00" x2="792.89" y2="679.10" stroke="#000" stroke-width="1.9" />
<line x1="792.89" y1="192.00" x2="792.89" y2="202.90" stroke="#000" stroke-width="1.9" />
<line x1="748.78" y1="690.00" x2="748.78" y2="679.10" stroke="#000" stroke-width="1.9" />
<line x1="748.78" y1="192.00" x2="748.78" y2="202.90" stroke="#000" stroke-width="1.9" />
<line x1="704.68" y1="690.00" x2="704.68" y2="679.10" stroke="#000" stroke-width="1.9" />
<line x1="704.68" y1="192.00" x2="704.68" y2="202.90" stroke="#000" stroke-width="1.9" />
<line x1="660.58" y1="690.00" x2="660.58" y2="668.10" stroke="#000" stroke-width="1.9" />
<line x1="660.58" y1="192.00" x2="660.58" y2="213.90" stroke="#000" stroke-width="1.9" />
<text x="634.90" y="721.80" font-size="29.45" textLength="51.36" lengthAdjust="spacingAndGlyphs" fill="#000" >330</text>
<line x1="616.47" y1="690.00" x2="616.47" y2="679.10" stroke="#000" stroke-width="1.9" />
<line x1="616.47" y1="192.00" x2="616.47" y2="202.90" stroke="#000" stroke-width="1.9" />
<line x1="572.37" y1="690.00" x2="572.37" y2="679.10" stroke="#000" stroke-width="1.9" />
<line x1="572.37" y1="192.00" x2="572.37" y2="202.90" stroke="#000" stroke-width="1.9" />
<line x1="528.26" y1="690.00" x2="528.26" y2="679.10" stroke="#000" stroke-width="1.9" />
<line x1="528.26" y1="192.00" x2="528.26" y2="202.90" stroke="#000" stroke-width="1.9" />
<line x1="484.16" y1="690.00" x2="484.16" y2="679.10" stroke="#000" stroke-width="1.9" />
<line x1="484.16" y1="192.00" x2="484.16" y2="202.90" stroke="#000" stroke-width="1.9" />
<line x1="440.05" y1="690.00" x2="440.05" y2="668.10" stroke="#000" stroke-width="1.9" />
<line x1="440.05" y1="192.00" x2="440.05" y2="213.90" stroke="#000" stroke-width="1.9" />
<text x="414.63" y="721.80" font-size="29.45" textLength="50.97" lengthAdjust="spacingAndGlyphs" fill="#000" >335</text>
<line x1="395.94" y1="690.00" x2="395.94" y2="679.10" stroke="#000" stroke-width="1.9" />
<line x1="395.94" y1="192.00" x2="395.94" y2="202.90" stroke="#000" stroke-width="1.9" />
<line x1="351.84" y1="690.00" x2="351.84" y2="679.10" stroke="#000" stroke-width="1.9" />
<line x1="351.84" y1="192.00" x2="351.84" y2="202.90" stroke="#000" stroke-width="1.9" />
<line x1="307.74" y1="690.00" x2="307.74" y2="679.10" stroke="#000" stroke-width="1.9" />
<line x1="307.74" y1="192.00" x2="307.74" y2="202.90" stroke="#000" stroke-width="1.9" />
<line x1="300.10" y1="678.62" x2="311.00" y2="678.62" stroke="#000" stroke-width="1.9" />
<line x1="2159.05" y1="678.62" x2="2148.15" y2="678.62" stroke="#000" stroke-width="1.9" />
<line x1="300.10" y1="665.96" x2="322.00" y2="665.96" stroke="#000" stroke-width="1.9" />
<line x1="2159.05" y1="665.96" x2="2137.15" y2="665.96" stroke="#000" stroke-width="1.9" />
<text x="273.59" y="676.16" font-size="29.45" textLength="15.49" lengthAdjust="spacingAndGlyphs" fill="#000" >5</text>
<line x1="300.10" y1="653.30" x2="311.00" y2="653.30" stroke="#000" stroke-width="1.9" />
<line x1="2159.05" y1="653.30" x2="2148.15" y2="653.30" stroke="#000" stroke-width="1.9" />
<line x1="300.10" y1="640.65" x2="311.00" y2="640.65" stroke="#000" stroke-width="1.9" />
<line x1="2159.05" y1="640.65" x2="2148.15" y2="640.65" stroke="#000" stroke-width="1.9" />
<line x1="300.10" y1="627.99" x2="311.00" y2="627.99" stroke="#000" stroke-width="1.9" />
<line x1="2159.05" y1="627.99" x2="2148.15" y2="627.99" stroke="#000" stroke-width="1.9" />
<line x1="300.10" y1="615.34" x2="311.00" y2="615.34" stroke="#000" stroke-width="1.9" />
<line x1="2159.05" y1="615.34" x2="2148.15" y2="615.34" stroke="#000" stroke-width="1.9" />
<line x1="300.10" y1="602.68" x2="322.00" y2="602.68" stroke="#000" stroke-width="1.9" />
<line x1="2159.05" y1="602.68" x2="2137.15" y2="602.68" stroke="#000" stroke-width="1.9" />
<text x="255.20" y="612.88" font-size="29.45" textLength="33.87" lengthAdjust="spacingAndGlyphs" fill="#000" >10</text>
<line x1="300.10" y1="590.02" x2="311.00" y2="590.02" stroke="#000" stroke-width="1.9" />
<line x1="2159.05" y1="590.02" x2="2148.15" y2="590.02" stroke="#000" stroke-width="1.9" />
<line x1="300.10" y1="577.37" x2="311.00" y2="577.37" stroke="#000" stroke-width="1.9" />
<line x1="2159.05" y1="577.37" x2="2148.15" y2="577.37" stroke="#000" stroke-width="1.9" />
<line x1="300.10" y1="564.71" x2="311.00" y2="564.71" stroke="#000" stroke-width="1.9" />
<line x1="2159.05" y1="564.71" x2="2148.15" y2="564.71" stroke="#000" stroke-width="1.9" />
<line x1="300.10" y1="552.06" x2="311.00" y2="552.06" stroke="#000" stroke-width="1.9" />
<line x1="2159.05" y1="552.06" x2="2148.15" y2="552.06" stroke="#000" stroke-width="1.9" />
<line x1="300.10" y1="539.40" x2="322.00" y2="539.40" stroke="#000" stroke-width="1.9" />
<line x1="2159.05" y1="539.40" x2="2137.15" y2="539.40" stroke="#000" stroke-width="1.9" />
<text x="255.73" y="549.60" font-size="29.45" textLength="33.45" lengthAdjust="spacingAndGlyphs" fill="#000" >15</text>
<line x1="300.10" y1="526.74" x2="311.00" y2="526.74" stroke="#000" stroke-width="1.9" />
<line x1="2159.05" y1="526.74" x2="2148.15" y2="526.74" stroke="#000" stroke-width="1.9" />
<line x1="300.10" y1="514.09" x2="311.00" y2="514.09" stroke="#000" stroke-width="1.9" />
<line x1="2159.05" y1="514.09" x2="2148.15" y2="514.09" stroke="#000" stroke-width="1.9" />
<line x1="300.10" y1="501.43" x2="311.00" y2="501.43" stroke="#000" stroke-width="1.9" />
<line x1="2159.05" y1="501.43" x2="2148.15" y2="501.43" stroke="#000" stroke-width="1.9" />
<line x1="300.10" y1="488.78" x2="311.00" y2="488.78" stroke="#000" stroke-width="1.9" />
<line x1="2159.05" y1="488.78" x2="2148.15" y2="488.78" stroke="#000" stroke-width="1.9" />
<line x1="300.10" y1="476.12" x2="322.00" y2="476.12" stroke="#000" stroke-width="1.9" />
<line x1="2159.05" y1="476.12" x2="2137.15" y2="476.12" stroke="#000" stroke-width="1.9" />
<text x="254.96" y="486.32" font-size="29.45" textLength="34.11" lengthAdjust="spacingAndGlyphs" fill="#000" >20</text>
<line x1="300.10" y1="463.46" x2="311.00" y2="463.46" stroke="#000" stroke-width="1.9" />
<line x1="2159.05" y1="463.46" x2="2148.15" y2="463.46" stroke="#000" stroke-width="1.9" />
<line x1="300.10" y1="450.81" x2="311.00" y2="450.81" stroke="#000" stroke-width="1.9" />
<line x1="2159.05" y1="450.81" x2="2148.15" y2="450.81" stroke="#000" stroke-width="1.9" />
<line x1="300.10" y1="438.15" x2="311.00" y2="438.15" stroke="#000" stroke-width="1.9" />
<line x1="2159.05" y1="438.15" x2="2148.15" y2="438.15" stroke="#000" stroke-width="1.9" />
<line x1="300.10" y1="425.50" x2="311.00" y2="425.50" stroke="#000" stroke-width="1.9" />
<line x1="2159.05" y1="425.50" x2="2148.15" y2="425.50" stroke="#000" stroke-width="1.9" />
<line x1="300.10" y1="412.84" x2="322.00" y2="412.84" stroke="#000" stroke-width="1.9" />
<line x1="2159.05" y1="412.84" x2="2137.15" y2="412.84" stroke="#000" stroke-width="1.9" />
<text x="255.48" y="423.04" font-size="29.45" textLength="33.71" lengthAdjust="spacingAndGlyphs" fill="#000" >25</text>
<line x1="300.10" y1="400.18" x2="311.00" y2="400.18" stroke="#000" stroke-width="1.9" />
<line x1="2159.05" y1="400.18" x2="2148.15" y2="400.18" stroke="#000" stroke-width="1.9" />
<line x1="300.10" y1="387.53" x2="311.00" y2="387.53" stroke="#000" stroke-width="1.9" />
<line x1="2159.05" y1="387.53" x2="2148.15" y2="387.53" stroke="#000" stroke-width="1.9" />
<line x1="300.10" y1="374.87" x2="311.00" y2="374.87" stroke="#000" stroke-width="1.9" />
<line x1="2159.05" y1="374.87" x2="2148.15" y2="374.87" stroke="#000" stroke-width="1.9" />
<line x1="300.10" y1="362.22" x2="311.00" y2="362.22" stroke="#000" stroke-width="1.9" />
<line x1="2159.05" y1="362.22" x2="2148.15" y2="362.22" stroke="#000" stroke-width="1.9" />
<line x1="300.10" y1="349.56" x2="322.00" y2="349.56" stroke="#000" stroke-width="1.9" />
<line x1="2159.05" y1="349.56" x2="2137.15" y2="349.56" stroke="#000" stroke-width="1.9" />
<text x="255.50" y="359.76" font-size="29.45" textLength="33.56" lengthAdjust="spacingAndGlyphs" fill="#000" >30</text>
<line x1="300.10" y1="336.90" x2="311.00" y2="336.90" stroke="#000" stroke-width="1.9" />
<line x1="2159.05" y1="336.90" x2="2148.15" y2="336.90" stroke="#000" stroke-width="1.9" />
<line x1="300.10" y1="324.25" x2="311.00" y2="324.25" stroke="#000" stroke-width="1.9" />
<line x1="2159.05" y1="324.25" x2="2148.15" y2="324.25" stroke="#000" stroke-width="1.9" />
<line x1="300.10" y1="311.59" x2="311.00" y2="311.59" stroke="#000" stroke-width="1.9" />
<line x1="2159.05" y1="311.59" x2="2148.15" y2="311.59" stroke="#000" stroke-width="1.9" />
<line x1="300.10" y1="298.94" x2="311.00" y2="298.94" stroke="#000" stroke-width="1.9" />
<line x1="2159.05" y1="298.94" x2="2148.15" y2="298.94" stroke="#000" stroke-width="1.9" />
<line x1="300.10" y1="286.28" x2="322.00" y2="286.28" stroke="#000" stroke-width="1.9" />
<line x1="2159.05" y1="286.28" x2="2137.15" y2="286.28" stroke="#000" stroke-width="1.9" />
<text x="256.01" y="296.48" font-size="29.45" textLength="33.16" lengthAdjust="spacingAndGlyphs" fill="#000" >35</text>
<line x1="300.10" y1="273.62" x2="311.00" y2="273.62" stroke="#000" stroke-width="1.9" />
<line x1="2159.05" y1="273.62" x2="2148.15" y2="273.62" stroke="#000" stroke-width="1.9" />
<line x1="300.10" y1="260.97" x2="311.00" y2="260.97" stroke="#000" stroke-width="1.9" />
<line x1="2159.05" y1="260.97" x2="2148.15" y2="260.97" stroke="#000" stroke-width="1.9" />
<line x1="300.10" y1="248.31" x2="311.00" y2="248.31" stroke="#000" stroke-width="1.9" />
<line x1="2159.05" y1="248.31" x2="2148.15" y2="248.31" stroke="#000" stroke-width="1.9" />
<line x1="300.10" y1="235.66" x2="311.00" y2="235.66" stroke="#000" stroke-width="1.9" />
<line x1="2159.05" y1="235.66" x2="2148.15" y2="235.66" stroke="#000" stroke-width="1.9" />
<line x1="300.10" y1="223.00" x2="322.00" y2="223.00" stroke="#000" stroke-width="1.9" />
<line x1="2159.05" y1="223.00" x2="2137.15" y2="223.00" stroke="#000" stroke-width="1.9" />
<text x="255.25" y="233.20" font-size="29.45" textLength="33.81" lengthAdjust="spacingAndGlyphs" fill="#000" >40</text>
<line x1="300.10" y1="210.34" x2="311.00" y2="210.34" stroke="#000" stroke-width="1.9" />
<line x1="2159.05" y1="210.34" x2="2148.15" y2="210.34" stroke="#000" stroke-width="1.9" />
<line x1="300.10" y1="197.69" x2="311.00" y2="197.69" stroke="#000" stroke-width="1.9" />
<line x1="2159.05" y1="197.69" x2="2148.15" y2="197.69" stroke="#000" stroke-width="1.9" />
<rect x="300.1" y="192.0" width="1858.95" height="498.0" fill="none" stroke="#000" stroke-width="1.9"/>
<linearGradient id="cb" x1="0" y1="0" x2="0" y2="1"><stop offset="0.00" stop-color="#ff0000"/><stop offset="0.20" stop-color="#ffff00"/><stop offset="0.40" stop-color="#00ff00"/><stop offset="0.60" stop-color="#0000ff"/><stop offset="0.80" stop-color="#9933ff"/><stop offset="1.00" stop-color="#000000"/></linearGradient>
<rect x="2205.0" y="192.0" width="25.0" height="498.0" fill="url(#cb)" stroke="#000" stroke-width="1.9"/>
<line x1="2230.00" y1="690.00" x2="2240.30" y2="690.00" stroke="#000" stroke-width="1.9" />
<text x="2249.89" y="700.20" font-size="29.45" textLength="16.09" lengthAdjust="spacingAndGlyphs" fill="#000" >0</text>
<line x1="2230.00" y1="607.00" x2="2240.30" y2="607.00" stroke="#000" stroke-width="1.9" />
<text x="2248.86" y="617.20" font-size="29.45" textLength="15.57" lengthAdjust="spacingAndGlyphs" fill="#000" >1</text>
<line x1="2230.00" y1="524.00" x2="2240.30" y2="524.00" stroke="#000" stroke-width="1.9" />
<text x="2249.56" y="534.20" font-size="29.45" textLength="15.76" lengthAdjust="spacingAndGlyphs" fill="#000" >2</text>
<line x1="2230.00" y1="441.00" x2="2240.30" y2="441.00" stroke="#000" stroke-width="1.9" />
<text x="2249.94" y="451.20" font-size="29.45" textLength="15.50" lengthAdjust="spacingAndGlyphs" fill="#000" >3</text>
<line x1="2230.00" y1="358.00" x2="2240.30" y2="358.00" stroke="#000" stroke-width="1.9" />
<text x="2250.38" y="368.20" font-size="29.45" textLength="16.24" lengthAdjust="spacingAndGlyphs" fill="#000" >4</text>
<line x1="2230.00" y1="275.00" x2="2240.30" y2="275.00" stroke="#000" stroke-width="1.9" />
<text x="2249.82" y="285.20" font-size="29.45" textLength="15.49" lengthAdjust="spacingAndGlyphs" fill="#000" >5</text>
<line x1="2230.00" y1="192.00" x2="2240.30" y2="192.00" stroke="#000" stroke-width="1.9" />
<text x="2249.47" y="202.20" font-size="29.45" textLength="16.68" lengthAdjust="spacingAndGlyphs" fill="#000" >6</text>
<g transform="translate(2303.3,441) rotate(-90)">
<text x="-173.63" y="0.00" font-size="28.89" textLength="228.85" lengthAdjust="spacingAndGlyphs" fill="#000" >Relative TEC (10</text>
<text x="56.32" y="-10.00" font-size="20.61" textLength="23.90" lengthAdjust="spacingAndGlyphs" fill="#000" >16</text>
<text x="80.70" y="0.00" font-size="28.89" textLength="69.77" lengthAdjust="spacingAndGlyphs" fill="#000" > el/m</text>
<text x="151.09" y="-10.00" font-size="20.61" textLength="11.16" lengthAdjust="spacingAndGlyphs" fill="#000" >2</text>
<text x="165.11" y="0.00" font-size="28.89" textLength="7.89" lengthAdjust="spacingAndGlyphs" fill="#000" >)</text>
</g>
<text x="1048.04" y="761.60" font-size="28.89" textLength="331.33" lengthAdjust="spacingAndGlyphs" fill="#000" >Station to S/C Azimuth (</text>
<circle cx="1391.51" cy="744.60" r="2.75" fill="none" stroke="#000" stroke-width="1.3"/>
<text x="1404.56" y="761.60" font-size="28.89" textLength="7.89" lengthAdjust="spacingAndGlyphs" fill="#000" >)</text>
<g transform="translate(238.1,440.5) rotate(-90)">
<text x="-189.73" y="0.00" font-size="28.89" textLength="345.90" lengthAdjust="spacingAndGlyphs" fill="#000" >Station to S/C Elevation (</text>
<circle cx="168.30" cy="-17.00" r="2.75" fill="none" stroke="#000" stroke-width="1.3"/>
<text x="181.34" y="0.00" font-size="28.89" textLength="7.89" lengthAdjust="spacingAndGlyphs" fill="#000" >)</text>
</g>
<clipPath id="cbot"><rect x="300.1" y="798.05" width="1859.90" height="503.85"/></clipPath>
<path d="M303.4,856.1 L310.0,855.1 L318.1,855.5 L326.3,854.1 L334.5,852.4 L342.6,850.1 L353.5,846.0 L365.7,843.8 L375.3,840.8 L387.5,839.7 L395.7,836.1 L405.2,831.6 L412.0,830.6 L421.5,831.3 L429.7,832.9 L437.9,831.6 L446.0,830.2 L451.5,831.6 L459.6,835.6 L466.4,837.8 L474.6,838.4 L484.1,838.5 L490.9,837.4 L496.4,836.7 L501.8,837.8 L508.6,841.9 L514.0,844.2 L520.9,843.3 L526.3,843.8 L534.5,846.9 L544.0,851.0 L553.5,853.7 L565.7,857.8 L573.9,861.2 L582.1,865.0 L588.9,867.3 L594.3,869.0 L602.5,868.7 L606.8,868.2 L617.7,865.9 L631.3,863.4 L639.5,861.4 L646.3,861.8 L654.4,862.0 L662.6,863.8 L673.5,864.1 L684.4,864.8 L693.9,868.2 L703.4,867.9 L710.2,868.6 L718.4,869.5 L726.5,868.8 L734.7,870.3 L741.5,870.3 L747.6,869.3 L753.1,867.9 L757.8,868.8 L766.0,872.0 L776.9,874.3 L787.8,877.1 L797.3,878.1 L804.1,880.4 L809.5,883.5 L816.3,888.3 L825.9,894.4 L835.4,897.1 L844.9,901.5 L854.4,908.0 L866.7,915.5 L880.3,923.3 L889.8,924.4 L898.0,926.0 L906.1,930.5 L910.0,932.2 L914.1,934.0 L923.6,934.7 L938.6,938.8 L948.8,943.4 L957.6,945.6 L967.1,949.7 L976.7,954.3 L986.2,958.8 L991.6,962.9 L1001.2,972.4 L1010.7,976.9 L1025.6,987.3 L1039.3,995.5 L1044.7,997.1 L1054.9,996.2 L1065.1,998.2 L1073.3,998.2 L1088.2,1001.6 L1103.2,1000.5 L1112.7,1001.9 L1122.9,1000.0 L1134.5,1002.7 L1148.1,1005.4 L1159.0,1010.5 L1169.9,1010.9 L1180.0,1014.5 L1192.2,1018.6 L1204.5,1021.6 L1212.7,1021.6 L1219.5,1020.6 L1226.3,1017.2 L1234.4,1015.2 L1239.9,1014.9 L1245.3,1017.6 L1250.7,1020.6 L1258.9,1022.0 L1268.4,1026.7 L1275.2,1028.8 L1283.4,1033.3 L1288.8,1036.9 L1294.3,1041.4 L1302.4,1045.8 L1309.3,1047.8 L1320.1,1049.2 L1329.7,1055.6 L1337.8,1059.7 L1346.7,1064.8 L1356.9,1064.8 L1363.7,1066.9 L1371.8,1071.0 L1377.3,1071.9 L1386.8,1071.6 L1396.3,1073.0 L1403.1,1071.4 L1411.3,1068.6 L1416.1,1067.6 L1424.9,1071.4 L1434.4,1075.0 L1440.0,1077.1 L1445.4,1079.8 L1449.5,1080.9 L1453.6,1083.6 L1458.4,1091.1 L1463.8,1095.6 L1472.7,1099.7 L1480.8,1104.7 L1488.3,1109.2 L1497.1,1110.1 L1502.6,1111.9 L1508.0,1114.9 L1516.9,1116.7 L1525.7,1121.4 L1533.9,1123.1 L1543.4,1127.4 L1551.6,1131.5 L1557.0,1135.3 L1563.8,1141.0 L1570.6,1146.2 L1575.4,1154.1 L1580.1,1159.1 L1585.6,1159.1 L1591.0,1157.5 L1597.8,1154.1 L1604.6,1151.2 L1610.1,1153.3 L1614.8,1155.4 L1619.6,1156.0 L1625.0,1155.4 L1633.2,1156.8 L1639.3,1156.4 L1644.1,1158.0 L1652.2,1162.5 L1661.8,1166.9 L1669.9,1168.2 L1676.7,1170.7 L1680.0,1171.9 L1687.1,1172.7 L1692.2,1174.0 L1697.3,1172.4 L1702.4,1173.5 L1712.7,1179.6 L1720.8,1186.2 L1731.5,1194.4 L1738.2,1195.7 L1746.3,1196.7 L1756.0,1200.8 L1761.6,1200.5 L1770.3,1199.0 L1775.4,1202.9 L1780.5,1232.7 L1785.1,1262.8 L1789.7,1272.4 L1794.8,1277.0 L1799.6,1260.7 L1804.3,1286.2 L1809.4,1296.9 L1814.2,1282.7 L1819.3,1279.4 L1823.9,1292.3 L1829.0,1263.3 L1833.6,1236.2 L1838.7,1210.0 L1843.5,1206.1 L1848.4,1222.7 L1853.0,1271.4 L1858.1,1267.3 L1862.7,1245.9 L1867.8,1217.3 L1872.7,1215.3 L1877.4,1203.9 L1882.6,1200.0 L1887.1,1194.1 L1892.2,1192.9 L1896.8,1200.0 L1902.0,1195.4 L1906.6,1211.0 L1911.7,1211.4 L1916.8,1215.1 L1921.4,1243.4 L1926.3,1250.5 L1931.1,1254.6 L1935.9,1277.6 L1940.8,1253.1 L1945.6,1232.9 L1950.7,1235.7 L1955.4,1224.0 L1960.2,1240.8 L1965.0,1258.2 L1969.9,1255.3 L1975.0,1257.3 L1979.8,1263.5 L1984.7,1259.0 L1989.6,1247.4 L1994.4,1248.2 L1999.2,1270.9 L2004.1,1268.4 L2009.0,1268.9 L2013.8,1275.3 L2018.6,1268.9 L2023.5,1260.2 L2028.4,1249.0 L2033.4,1245.1 L2038.3,1262.2 L2043.1,1267.9 L2048.0,1277.0 L2052.8,1274.0 L2057.7,1277.3 L2062.6,1275.0 L2067.3,1265.5 L2072.2,1263.3 L2077.2,1255.6 L2082.1,1233.2 L2086.9,1215.3 L2091.8,1197.8 L2096.7,1199.5 L2101.7,1221.4 L2106.6,1248.5 L2111.4,1265.3 L2115.3,1282.1 L2120.4,1284.7 L2125.5,1286.2 L2130.6,1295.4 L2135.5,1279.6 L2140.8,1283.9 L2145.4,1298.5 L2150.5,1279.6 L2155.1,1257.1 L2160.0,1238.8" fill="none" stroke="#000" stroke-width="3.9" stroke-linejoin="round" clip-path="url(#cbot)"/>
<line x1="358.52" y1="1298.90" x2="358.52" y2="1288.00" stroke="#000" stroke-width="1.9" />
<line x1="358.52" y1="801.05" x2="358.52" y2="811.95" stroke="#000" stroke-width="1.9" />
<line x1="421.80" y1="1298.90" x2="421.80" y2="1288.00" stroke="#000" stroke-width="1.9" />
<line x1="421.80" y1="801.05" x2="421.80" y2="811.95" stroke="#000" stroke-width="1.9" />
<line x1="485.08" y1="1298.90" x2="485.08" y2="1288.00" stroke="#000" stroke-width="1.9" />
<line x1="485.08" y1="801.05" x2="485.08" y2="811.95" stroke="#000" stroke-width="1.9" />
<line x1="543.50" y1="1298.90" x2="543.50" y2="1288.00" stroke="#000" stroke-width="1.9" />
<line x1="543.50" y1="801.05" x2="543.50" y2="811.95" stroke="#000" stroke-width="1.9" />
<line x1="606.78" y1="1298.90" x2="606.78" y2="1277.00" stroke="#000" stroke-width="1.9" />
<line x1="606.78" y1="801.05" x2="606.78" y2="822.95" stroke="#000" stroke-width="1.9" />
<line x1="670.07" y1="1298.90" x2="670.07" y2="1288.00" stroke="#000" stroke-width="1.9" />
<line x1="670.07" y1="801.05" x2="670.07" y2="811.95" stroke="#000" stroke-width="1.9" />
<line x1="733.35" y1="1298.90" x2="733.35" y2="1288.00" stroke="#000" stroke-width="1.9" />
<line x1="733.35" y1="801.05" x2="733.35" y2="811.95" stroke="#000" stroke-width="1.9" />
<line x1="791.77" y1="1298.90" x2="791.77" y2="1288.00" stroke="#000" stroke-width="1.9" />
<line x1="791.77" y1="801.05" x2="791.77" y2="811.95" stroke="#000" stroke-width="1.9" />
<line x1="855.05" y1="1298.90" x2="855.05" y2="1288.00" stroke="#000" stroke-width="1.9" />
<line x1="855.05" y1="801.05" x2="855.05" y2="811.95" stroke="#000" stroke-width="1.9" />
<line x1="918.34" y1="1298.90" x2="918.34" y2="1277.00" stroke="#000" stroke-width="1.9" />
<line x1="918.34" y1="801.05" x2="918.34" y2="822.95" stroke="#000" stroke-width="1.9" />
<line x1="981.62" y1="1298.90" x2="981.62" y2="1288.00" stroke="#000" stroke-width="1.9" />
<line x1="981.62" y1="801.05" x2="981.62" y2="811.95" stroke="#000" stroke-width="1.9" />
<line x1="1040.04" y1="1298.90" x2="1040.04" y2="1288.00" stroke="#000" stroke-width="1.9" />
<line x1="1040.04" y1="801.05" x2="1040.04" y2="811.95" stroke="#000" stroke-width="1.9" />
<line x1="1103.32" y1="1298.90" x2="1103.32" y2="1288.00" stroke="#000" stroke-width="1.9" />
<line x1="1103.32" y1="801.05" x2="1103.32" y2="811.95" stroke="#000" stroke-width="1.9" />
<line x1="1166.60" y1="1298.90" x2="1166.60" y2="1288.00" stroke="#000" stroke-width="1.9" />
<line x1="1166.60" y1="801.05" x2="1166.60" y2="811.95" stroke="#000" stroke-width="1.9" />
<line x1="1229.89" y1="1298.90" x2="1229.89" y2="1277.00" stroke="#000" stroke-width="1.9" />
<line x1="1229.89" y1="801.05" x2="1229.89" y2="822.95" stroke="#000" stroke-width="1.9" />
<line x1="1288.30" y1="1298.90" x2="1288.30" y2="1288.00" stroke="#000" stroke-width="1.9" />
<line x1="1288.30" y1="801.05" x2="1288.30" y2="811.95" stroke="#000" stroke-width="1.9" />
<line x1="1351.59" y1="1298.90" x2="1351.59" y2="1288.00" stroke="#000" stroke-width="1.9" />
<line x1="1351.59" y1="801.05" x2="1351.59" y2="811.95" stroke="#000" stroke-width="1.9" />
<line x1="1414.87" y1="1298.90" x2="1414.87" y2="1288.00" stroke="#000" stroke-width="1.9" />
<line x1="1414.87" y1="801.05" x2="1414.87" y2="811.95" stroke="#000" stroke-width="1.9" />
<line x1="1473.29" y1="1298.90" x2="1473.29" y2="1288.00" stroke="#000" stroke-width="1.9" />
<line x1="1473.29" y1="801.05" x2="1473.29" y2="811.95" stroke="#000" stroke-width="1.9" />
<line x1="1536.57" y1="1298.90" x2="1536.57" y2="1277.00" stroke="#000" stroke-width="1.9" />
<line x1="1536.57" y1="801.05" x2="1536.57" y2="822.95" stroke="#000" stroke-width="1.9" />
<line x1="1599.86" y1="1298.90" x2="1599.86" y2="1288.00" stroke="#000" stroke-width="1.9" />
<line x1="1599.86" y1="801.05" x2="1599.86" y2="811.95" stroke="#000" stroke-width="1.9" />
<line x1="1663.14" y1="1298.90" x2="1663.14" y2="1288.00" stroke="#000" stroke-width="1.9" />
<line x1="1663.14" y1="801.05" x2="1663.14" y2="811.95" stroke="#000" stroke-width="1.9" />
<line x1="1721.56" y1="1298.90" x2="1721.56" y2="1288.00" stroke="#000" stroke-width="1.9" />
<line x1="1721.56" y1="801.05" x2="1721.56" y2="811.95" stroke="#000" stroke-width="1.9" />
<line x1="1784.84" y1="1298.90" x2="1784.84" y2="1288.00" stroke="#000" stroke-width="1.9" />
<line x1="1784.84" y1="801.05" x2="1784.84" y2="811.95" stroke="#000" stroke-width="1.9" />
<line x1="1848.12" y1="1298.90" x2="1848.12" y2="1277.00" stroke="#000" stroke-width="1.9" />
<line x1="1848.12" y1="801.05" x2="1848.12" y2="822.95" stroke="#000" stroke-width="1.9" />
<line x1="1911.41" y1="1298.90" x2="1911.41" y2="1288.00" stroke="#000" stroke-width="1.9" />
<line x1="1911.41" y1="801.05" x2="1911.41" y2="811.95" stroke="#000" stroke-width="1.9" />
<line x1="1969.82" y1="1298.90" x2="1969.82" y2="1288.00" stroke="#000" stroke-width="1.9" />
<line x1="1969.82" y1="801.05" x2="1969.82" y2="811.95" stroke="#000" stroke-width="1.9" />
<line x1="2033.11" y1="1298.90" x2="2033.11" y2="1288.00" stroke="#000" stroke-width="1.9" />
<line x1="2033.11" y1="801.05" x2="2033.11" y2="811.95" stroke="#000" stroke-width="1.9" />
<line x1="2096.39" y1="1298.90" x2="2096.39" y2="1288.00" stroke="#000" stroke-width="1.9" />
<line x1="2096.39" y1="801.05" x2="2096.39" y2="811.95" stroke="#000" stroke-width="1.9" />
<line x1="300.10" y1="1298.90" x2="322.00" y2="1298.90" stroke="#000" stroke-width="1.9" />
<line x1="2160.00" y1="1298.90" x2="2138.10" y2="1298.90" stroke="#000" stroke-width="1.9" />
<text x="273.82" y="1309.10" font-size="29.45" textLength="16.09" lengthAdjust="spacingAndGlyphs" fill="#000" >0</text>
<line x1="300.10" y1="1282.30" x2="311.00" y2="1282.30" stroke="#000" stroke-width="1.9" />
<line x1="2160.00" y1="1282.30" x2="2149.10" y2="1282.30" stroke="#000" stroke-width="1.9" />
<line x1="300.10" y1="1265.70" x2="311.00" y2="1265.70" stroke="#000" stroke-width="1.9" />
<line x1="2160.00" y1="1265.70" x2="2149.10" y2="1265.70" stroke="#000" stroke-width="1.9" />
<line x1="300.10" y1="1249.10" x2="311.00" y2="1249.10" stroke="#000" stroke-width="1.9" />
<line x1="2160.00" y1="1249.10" x2="2149.10" y2="1249.10" stroke="#000" stroke-width="1.9" />
<line x1="300.10" y1="1232.50" x2="311.00" y2="1232.50" stroke="#000" stroke-width="1.9" />
<line x1="2160.00" y1="1232.50" x2="2149.10" y2="1232.50" stroke="#000" stroke-width="1.9" />
<line x1="300.10" y1="1215.90" x2="322.00" y2="1215.90" stroke="#000" stroke-width="1.9" />
<line x1="2160.00" y1="1215.90" x2="2138.10" y2="1215.90" stroke="#000" stroke-width="1.9" />
<text x="274.54" y="1226.10" font-size="29.45" textLength="15.57" lengthAdjust="spacingAndGlyphs" fill="#000" >1</text>
<line x1="300.10" y1="1199.30" x2="311.00" y2="1199.30" stroke="#000" stroke-width="1.9" />
<line x1="2160.00" y1="1199.30" x2="2149.10" y2="1199.30" stroke="#000" stroke-width="1.9" />
<line x1="300.10" y1="1182.70" x2="311.00" y2="1182.70" stroke="#000" stroke-width="1.9" />
<line x1="2160.00" y1="1182.70" x2="2149.10" y2="1182.70" stroke="#000" stroke-width="1.9" />
<line x1="300.10" y1="1166.10" x2="311.00" y2="1166.10" stroke="#000" stroke-width="1.9" />
<line x1="2160.00" y1="1166.10" x2="2149.10" y2="1166.10" stroke="#000" stroke-width="1.9" />
<line x1="300.10" y1="1149.50" x2="311.00" y2="1149.50" stroke="#000" stroke-width="1.9" />
<line x1="2160.00" y1="1149.50" x2="2149.10" y2="1149.50" stroke="#000" stroke-width="1.9" />
<line x1="300.10" y1="1132.90" x2="322.00" y2="1132.90" stroke="#000" stroke-width="1.9" />
<line x1="2160.00" y1="1132.90" x2="2138.10" y2="1132.90" stroke="#000" stroke-width="1.9" />
<text x="274.48" y="1143.10" font-size="29.45" textLength="15.76" lengthAdjust="spacingAndGlyphs" fill="#000" >2</text>
<line x1="300.10" y1="1116.30" x2="311.00" y2="1116.30" stroke="#000" stroke-width="1.9" />
<line x1="2160.00" y1="1116.30" x2="2149.10" y2="1116.30" stroke="#000" stroke-width="1.9" />
<line x1="300.10" y1="1099.70" x2="311.00" y2="1099.70" stroke="#000" stroke-width="1.9" />
<line x1="2160.00" y1="1099.70" x2="2149.10" y2="1099.70" stroke="#000" stroke-width="1.9" />
<line x1="300.10" y1="1083.10" x2="311.00" y2="1083.10" stroke="#000" stroke-width="1.9" />
<line x1="2160.00" y1="1083.10" x2="2149.10" y2="1083.10" stroke="#000" stroke-width="1.9" />
<line x1="300.10" y1="1066.50" x2="311.00" y2="1066.50" stroke="#000" stroke-width="1.9" />
<line x1="2160.00" y1="1066.50" x2="2149.10" y2="1066.50" stroke="#000" stroke-width="1.9" />
<line x1="300.10" y1="1049.90" x2="322.00" y2="1049.90" stroke="#000" stroke-width="1.9" />
<line x1="2160.00" y1="1049.90" x2="2138.10" y2="1049.90" stroke="#000" stroke-width="1.9" />
<text x="274.49" y="1060.10" font-size="29.45" textLength="15.50" lengthAdjust="spacingAndGlyphs" fill="#000" >3</text>
<line x1="300.10" y1="1033.30" x2="311.00" y2="1033.30" stroke="#000" stroke-width="1.9" />
<line x1="2160.00" y1="1033.30" x2="2149.10" y2="1033.30" stroke="#000" stroke-width="1.9" />
<line x1="300.10" y1="1016.70" x2="311.00" y2="1016.70" stroke="#000" stroke-width="1.9" />
<line x1="2160.00" y1="1016.70" x2="2149.10" y2="1016.70" stroke="#000" stroke-width="1.9" />
<line x1="300.10" y1="1000.10" x2="311.00" y2="1000.10" stroke="#000" stroke-width="1.9" />
<line x1="2160.00" y1="1000.10" x2="2149.10" y2="1000.10" stroke="#000" stroke-width="1.9" />
<line x1="300.10" y1="983.50" x2="311.00" y2="983.50" stroke="#000" stroke-width="1.9" />
<line x1="2160.00" y1="983.50" x2="2149.10" y2="983.50" stroke="#000" stroke-width="1.9" />
<line x1="300.10" y1="966.90" x2="322.00" y2="966.90" stroke="#000" stroke-width="1.9" />
<line x1="2160.00" y1="966.90" x2="2138.10" y2="966.90" stroke="#000" stroke-width="1.9" />
<text x="273.43" y="977.10" font-size="29.45" textLength="16.24" lengthAdjust="spacingAndGlyphs" fill="#000" >4</text>
<line x1="300.10" y1="950.30" x2="311.00" y2="950.30" stroke="#000" stroke-width="1.9" />
<line x1="2160.00" y1="950.30" x2="2149.10" y2="950.30" stroke="#000" stroke-width="1.9" />
<line x1="300.10" y1="933.70" x2="311.00" y2="933.70" stroke="#000" stroke-width="1.9" />
<line x1="2160.00" y1="933.70" x2="2149.10" y2="933.70" stroke="#000" stroke-width="1.9" />
<line x1="300.10" y1="917.10" x2="311.00" y2="917.10" stroke="#000" stroke-width="1.9" />
<line x1="2160.00" y1="917.10" x2="2149.10" y2="917.10" stroke="#000" stroke-width="1.9" />
<line x1="300.10" y1="900.50" x2="311.00" y2="900.50" stroke="#000" stroke-width="1.9" />
<line x1="2160.00" y1="900.50" x2="2149.10" y2="900.50" stroke="#000" stroke-width="1.9" />
<line x1="300.10" y1="883.90" x2="322.00" y2="883.90" stroke="#000" stroke-width="1.9" />
<line x1="2160.00" y1="883.90" x2="2138.10" y2="883.90" stroke="#000" stroke-width="1.9" />
<text x="274.49" y="894.10" font-size="29.45" textLength="15.49" lengthAdjust="spacingAndGlyphs" fill="#000" >5</text>
<line x1="300.10" y1="867.30" x2="311.00" y2="867.30" stroke="#000" stroke-width="1.9" />
<line x1="2160.00" y1="867.30" x2="2149.10" y2="867.30" stroke="#000" stroke-width="1.9" />
<line x1="300.10" y1="850.70" x2="311.00" y2="850.70" stroke="#000" stroke-width="1.9" />
<line x1="2160.00" y1="850.70" x2="2149.10" y2="850.70" stroke="#000" stroke-width="1.9" />
<line x1="300.10" y1="834.10" x2="311.00" y2="834.10" stroke="#000" stroke-width="1.9" />
<line x1="2160.00" y1="834.10" x2="2149.10" y2="834.10" stroke="#000" stroke-width="1.9" />
<line x1="300.10" y1="817.50" x2="311.00" y2="817.50" stroke="#000" stroke-width="1.9" />
<line x1="2160.00" y1="817.50" x2="2149.10" y2="817.50" stroke="#000" stroke-width="1.9" />
<line x1="300.10" y1="800.90" x2="322.00" y2="800.90" stroke="#000" stroke-width="1.9" />
<line x1="2160.00" y1="800.90" x2="2138.10" y2="800.90" stroke="#000" stroke-width="1.9" />
<text x="273.40" y="811.10" font-size="29.45" textLength="16.68" lengthAdjust="spacingAndGlyphs" fill="#000" >6</text>
<rect x="300.1" y="801.05" width="1859.90" height="497.85" fill="none" stroke="#000" stroke-width="1.9"/>
<g transform="translate(254.0,1050) rotate(-90)">
<text x="-173.63" y="0.00" font-size="28.89" textLength="228.85" lengthAdjust="spacingAndGlyphs" fill="#000" >Relative TEC (10</text>
<text x="56.32" y="-10.00" font-size="20.61" textLength="23.90" lengthAdjust="spacingAndGlyphs" fill="#000" >16</text>
<text x="80.70" y="0.00" font-size="28.89" textLength="69.77" lengthAdjust="spacingAndGlyphs" fill="#000" > el/m</text>
<text x="151.09" y="-10.00" font-size="20.61" textLength="11.16" lengthAdjust="spacingAndGlyphs" fill="#000" >2</text>
<text x="165.11" y="0.00" font-size="28.89" textLength="7.89" lengthAdjust="spacingAndGlyphs" fill="#000" >)</text>
</g>
<text x="243.13" y="1351.10" font-size="29.45" textLength="123.26" lengthAdjust="spacingAndGlyphs" fill="#000" >10:47:33</text>
<text x="551.02" y="1351.10" font-size="29.45" textLength="123.78" lengthAdjust="spacingAndGlyphs" fill="#000" >10:48:36</text>
<text x="859.24" y="1351.10" font-size="29.45" textLength="123.51" lengthAdjust="spacingAndGlyphs" fill="#000" >10:49:40</text>
<text x="1167.20" y="1351.10" font-size="29.45" textLength="123.62" lengthAdjust="spacingAndGlyphs" fill="#000" >10:50:44</text>
<text x="1475.79" y="1351.10" font-size="29.45" textLength="123.41" lengthAdjust="spacingAndGlyphs" fill="#000" >10:51:47</text>
<text x="1784.01" y="1351.10" font-size="29.45" textLength="123.14" lengthAdjust="spacingAndGlyphs" fill="#000" >10:52:51</text>
<text x="2092.10" y="1351.10" font-size="29.45" textLength="123.13" lengthAdjust="spacingAndGlyphs" fill="#000" >10:53:55</text>
<text x="256.78" y="1385.80" font-size="29.45" textLength="95.91" lengthAdjust="spacingAndGlyphs" fill="#000" >1071.8</text>
<text x="564.74" y="1385.80" font-size="29.45" textLength="95.89" lengthAdjust="spacingAndGlyphs" fill="#000" >1098.4</text>
<text x="873.47" y="1385.80" font-size="29.45" textLength="95.45" lengthAdjust="spacingAndGlyphs" fill="#000" >1124.2</text>
<text x="1181.43" y="1385.80" font-size="29.45" textLength="95.56" lengthAdjust="spacingAndGlyphs" fill="#000" >1148.5</text>
<text x="1489.64" y="1385.80" font-size="29.45" textLength="95.57" lengthAdjust="spacingAndGlyphs" fill="#000" >1171.1</text>
<text x="1797.73" y="1385.80" font-size="29.45" textLength="95.56" lengthAdjust="spacingAndGlyphs" fill="#000" >1192.5</text>
<text x="2106.13" y="1385.80" font-size="29.45" textLength="95.28" lengthAdjust="spacingAndGlyphs" fill="#000" >1212.2</text>
<text x="275.10" y="1419.80" font-size="29.45" textLength="60.20" lengthAdjust="spacingAndGlyphs" fill="#000" >72.3</text>
<text x="583.51" y="1419.80" font-size="29.45" textLength="59.95" lengthAdjust="spacingAndGlyphs" fill="#000" >75.2</text>
<text x="891.46" y="1419.80" font-size="29.45" textLength="60.35" lengthAdjust="spacingAndGlyphs" fill="#000" >77.7</text>
<text x="1199.35" y="1419.80" font-size="29.45" textLength="60.60" lengthAdjust="spacingAndGlyphs" fill="#000" >79.8</text>
<text x="1507.57" y="1419.80" font-size="29.45" textLength="60.85" lengthAdjust="spacingAndGlyphs" fill="#000" >80.9</text>
<text x="1815.73" y="1419.80" font-size="29.45" textLength="60.71" lengthAdjust="spacingAndGlyphs" fill="#000" >80.8</text>
<text x="2123.74" y="1419.80" font-size="29.45" textLength="60.73" lengthAdjust="spacingAndGlyphs" fill="#000" >79.6</text>
<text x="265.53" y="1453.80" font-size="29.45" textLength="78.41" lengthAdjust="spacingAndGlyphs" fill="#000" >126.6</text>
<text x="574.20" y="1453.80" font-size="29.45" textLength="77.64" lengthAdjust="spacingAndGlyphs" fill="#000" >133.2</text>
<text x="882.23" y="1453.80" font-size="29.45" textLength="77.76" lengthAdjust="spacingAndGlyphs" fill="#000" >143.1</text>
<text x="1190.25" y="1453.80" font-size="29.45" textLength="77.89" lengthAdjust="spacingAndGlyphs" fill="#000" >157.3</text>
<text x="1498.65" y="1453.80" font-size="29.45" textLength="77.64" lengthAdjust="spacingAndGlyphs" fill="#000" >176.2</text>
<text x="1801.41" y="1453.80" font-size="29.45" textLength="88.88" lengthAdjust="spacingAndGlyphs" fill="#000" >-162.4</text>
<text x="2109.74" y="1453.80" font-size="29.45" textLength="89.04" lengthAdjust="spacingAndGlyphs" fill="#000" >-143.9</text>
<text x="274.77" y="1487.80" font-size="29.45" textLength="60.72" lengthAdjust="spacingAndGlyphs" fill="#000" >63.0</text>
<text x="583.37" y="1487.80" font-size="29.45" textLength="60.22" lengthAdjust="spacingAndGlyphs" fill="#000" >66.2</text>
<text x="891.52" y="1487.80" font-size="29.45" textLength="60.22" lengthAdjust="spacingAndGlyphs" fill="#000" >69.2</text>
<text x="1199.68" y="1487.80" font-size="29.45" textLength="60.08" lengthAdjust="spacingAndGlyphs" fill="#000" >72.1</text>
<text x="1507.44" y="1487.80" font-size="29.45" textLength="60.73" lengthAdjust="spacingAndGlyphs" fill="#000" >74.6</text>
<text x="1815.65" y="1487.80" font-size="29.45" textLength="60.60" lengthAdjust="spacingAndGlyphs" fill="#000" >76.8</text>
<text x="2123.61" y="1487.80" font-size="29.45" textLength="60.58" lengthAdjust="spacingAndGlyphs" fill="#000" >78.4</text>
<text x="274.49" y="1521.70" font-size="29.45" textLength="60.50" lengthAdjust="spacingAndGlyphs" fill="#000" >19.0</text>
<text x="583.09" y="1521.70" font-size="29.45" textLength="59.99" lengthAdjust="spacingAndGlyphs" fill="#000" >19.2</text>
<text x="891.05" y="1521.70" font-size="29.45" textLength="60.11" lengthAdjust="spacingAndGlyphs" fill="#000" >19.5</text>
<text x="1198.93" y="1521.70" font-size="29.45" textLength="60.79" lengthAdjust="spacingAndGlyphs" fill="#000" >19.9</text>
<text x="1507.63" y="1521.70" font-size="29.45" textLength="60.34" lengthAdjust="spacingAndGlyphs" fill="#000" >20.5</text>
<text x="1815.97" y="1521.70" font-size="29.45" textLength="60.22" lengthAdjust="spacingAndGlyphs" fill="#000" >21.2</text>
<text x="2124.00" y="1521.70" font-size="29.45" textLength="60.34" lengthAdjust="spacingAndGlyphs" fill="#000" >22.1</text>
<text x="149.79" y="1353.70" font-size="28.89" textLength="37.84" lengthAdjust="spacingAndGlyphs" fill="#000" >UT</text>
<text x="68.12" y="1387.80" font-size="28.89" textLength="120.67" lengthAdjust="spacingAndGlyphs" fill="#000" >ALT (km)</text>
<text x="85.77" y="1422.00" font-size="28.89" textLength="67.19" lengthAdjust="spacingAndGlyphs" fill="#000" >LAT (</text>
<circle cx="165.16" cy="1405.00" r="2.75" fill="none" stroke="#000" stroke-width="1.3"/>
<text x="178.21" y="1422.00" font-size="28.89" textLength="7.89" lengthAdjust="spacingAndGlyphs" fill="#000" >)</text>
<text x="78.62" y="1456.00" font-size="28.89" textLength="74.46" lengthAdjust="spacingAndGlyphs" fill="#000" >LON (</text>
<circle cx="165.16" cy="1439.00" r="2.75" fill="none" stroke="#000" stroke-width="1.3"/>
<text x="178.21" y="1456.00" font-size="28.89" textLength="7.89" lengthAdjust="spacingAndGlyphs" fill="#000" >)</text>
<text x="61.79" y="1490.20" font-size="28.89" textLength="91.26" lengthAdjust="spacingAndGlyphs" fill="#000" >MLAT (</text>
<circle cx="165.16" cy="1473.20" r="2.75" fill="none" stroke="#000" stroke-width="1.3"/>
<text x="178.21" y="1490.20" font-size="28.89" textLength="7.89" lengthAdjust="spacingAndGlyphs" fill="#000" >)</text>
<text x="63.06" y="1523.70" font-size="28.89" textLength="125.76" lengthAdjust="spacingAndGlyphs" fill="#000" >MLT (hrs)</text>
<text x="58.12" y="1574.80" font-size="28.89" textLength="1148.74" lengthAdjust="spacingAndGlyphs" fill="#000" >Station: EurekaCanada, Lat 79.990, Lon -85.902, Elevation 32 m, UTC Offset -5 hrs</text>
<text x="1789.24" y="1574.80" font-size="28.89" textLength="440.57" lengthAdjust="spacingAndGlyphs" fill="#000" >Produced by CER_TEC version 2</text>
<text x="1038.10" y="62.00" font-size="63.55" textLength="324.88" lengthAdjust="spacingAndGlyphs" fill="#000" >e-POP CER</text>
<text x="914.71" y="127.90" font-size="57.78" textLength="569.84" lengthAdjust="spacingAndGlyphs" fill="#000" >September 29, 2017</text>
<clipPath id="esaD"><circle cx="1886.1" cy="88.7" r="50.4"/></clipPath>
<clipPath id="esaI"><circle cx="1916.0" cy="91.2" r="20.7"/></clipPath>
<g id="esa">
<g clip-path="url(#esaD)" fill="none" stroke="#4a7cc2" stroke-width="2.05">
<circle cx="1919.8" cy="51.4" r="2.27"/>
<circle cx="1919.8" cy="51.4" r="6.05"/>
<circle cx="1919.8" cy="51.4" r="9.83"/>
<circle cx="1919.8" cy="51.4" r="13.61"/>
<circle cx="1919.8" cy="51.4" r="17.39"/>
<circle cx="1919.8" cy="51.4" r="21.17"/>
<circle cx="1919.8" cy="51.4" r="24.95"/>
<circle cx="1919.8" cy="51.4" r="28.73"/>
<circle cx="1919.8" cy="51.4" r="32.51"/>
<circle cx="1919.8" cy="51.4" r="36.29"/>
<circle cx="1919.8" cy="51.4" r="40.07"/>
<circle cx="1919.8" cy="51.4" r="43.85"/>
<circle cx="1919.8" cy="51.4" r="47.63"/>
<circle cx="1919.8" cy="51.4" r="51.41"/>
<circle cx="1919.8" cy="51.4" r="55.19"/>
<circle cx="1919.8" cy="51.4" r="58.97"/>
<circle cx="1919.8" cy="51.4" r="62.75"/>
<circle cx="1919.8" cy="51.4" r="66.53"/>
<circle cx="1919.8" cy="51.4" r="70.31"/>
<circle cx="1919.8" cy="51.4" r="74.09"/>
<circle cx="1919.8" cy="51.4" r="77.87"/>
<circle cx="1919.8" cy="51.4" r="81.65"/>
<circle cx="1919.8" cy="51.4" r="85.43"/>
<circle cx="1919.8" cy="51.4" r="89.21"/>
<circle cx="1919.8" cy="51.4" r="92.99"/>
<circle cx="1919.8" cy="51.4" r="96.77"/>
<circle cx="1919.8" cy="51.4" r="100.55"/>
<circle cx="1919.8" cy="51.4" r="104.33"/>
<circle cx="1919.8" cy="51.4" r="108.11"/>
<circle cx="1919.8" cy="51.4" r="111.89"/>
</g>
<circle cx="1916.0" cy="91.2" r="32.9" fill="#fff"/>
<path d="M1922.66,55.78 A49.199999999999996,49.199999999999996 0 0 1 1935.27,90.42" fill="none" stroke="#4a7cc2" stroke-width="2.2" stroke-dasharray="1.9 1.9"/>
<g clip-path="url(#esaI)">
<g fill="none" stroke="#4a7cc2" stroke-width="2.05">
<circle cx="1915.5" cy="69.2" r="1.89"/>
<circle cx="1915.5" cy="69.2" r="5.67"/>
<circle cx="1915.5" cy="69.2" r="9.45"/>
<circle cx="1915.5" cy="69.2" r="13.23"/>
<circle cx="1915.5" cy="69.2" r="17.01"/>
<circle cx="1915.5" cy="69.2" r="20.79"/>
<circle cx="1915.5" cy="69.2" r="24.57"/>
<circle cx="1915.5" cy="69.2" r="28.35"/>
<circle cx="1915.5" cy="69.2" r="32.13"/>
<circle cx="1915.5" cy="69.2" r="35.91"/>
<circle cx="1915.5" cy="69.2" r="39.69"/>
<circle cx="1915.5" cy="69.2" r="43.47"/>
<circle cx="1915.5" cy="69.2" r="47.25"/>
<circle cx="1915.5" cy="69.2" r="51.03"/>
<circle cx="1915.5" cy="69.2" r="54.81"/>
<circle cx="1915.5" cy="69.2" r="58.59"/>
</g>
<rect x="1894.3" y="69.5" width="43.4" height="24.90" fill="#fff"/>
<g fill="none" stroke="#4a7cc2" stroke-width="2.05"><clipPath id="esaQ"><rect x="1894.3" y="69.5" width="26.20" height="14.70"/></clipPath><g clip-path="url(#esaQ)">
<circle cx="1917.5" cy="93.7" r="19.70"/>
<circle cx="1917.5" cy="93.7" r="15.92"/>
<circle cx="1917.5" cy="93.7" r="12.14"/>
<circle cx="1917.5" cy="93.7" r="8.36"/>
<circle cx="1917.5" cy="93.7" r="4.58"/>
</g></g>
</g>
<circle cx="1858.6" cy="88.9" r="5.7" fill="#fff"/>
<text x="1944.84" y="118.40" font-size="104.70" font-weight="bold" textLength="167.49" lengthAdjust="spacingAndGlyphs" fill="#16267f">esa</text>
</g>
<g id="cas">
<polygon points="274,88.3 314.7,16.5 399.5,16.5 439.8,88.3 399.5,160.4 314.7,160.4" fill="#fff" stroke="#c3e6ee" stroke-width="1"/>
<clipPath id="casH"><polygon points="282.9,88.2 318.6,25.1 393.9,25.1 430.2,88.2 395.3,148.2 318.0,148.2"/></clipPath>
<defs><linearGradient id="casE" x1="0" y1="0" x2="0" y2="1"><stop offset="0" stop-color="#2a6fd6"/><stop offset="0.18" stop-color="#5e9be6"/><stop offset="0.5" stop-color="#9cc6f2"/><stop offset="1" stop-color="#dcecfb"/></linearGradient><filter id="casB" x="-20%" y="-20%" width="140%" height="140%"><feGaussianBlur stdDeviation="2.2"/></filter><filter id="casB1" x="-20%" y="-20%" width="140%" height="140%"><feGaussianBlur stdDeviation="0.9"/></filter></defs>
<g clip-path="url(#casH)">
<polygon points="282.9,88.2 318.6,25.1 393.9,25.1 430.2,88.2 395.3,148.2 318.0,148.2" fill="#020204"/>
<g filter="url(#casB)" fill="none" stroke-linecap="round">
<path d="M281,107.5 L291.7,104.2 L313.4,100.6 L335.1,96.0 L347,92.8" stroke="#19a856" stroke-width="7.5" opacity="0.95"/>
<path d="M300,103.5 L313.4,101.2 L332,97.2" stroke="#3fd07a" stroke-width="3.5" opacity="0.8"/>
<path d="M364,94.2 L371.2,92.4 L400.1,86.6 L425.4,84.0 L434,83.6" stroke="#19a856" stroke-width="5.2" opacity="0.95"/>
</g>
<circle cx="426.9" cy="417.2" r="330.2" fill="none" stroke="#04060c" stroke-width="2.6" filter="url(#casB1)"/>
<clipPath id="casEc"><circle cx="426.9" cy="417.2" r="328.6"/></clipPath>
<circle cx="426.9" cy="417.2" r="328.6" fill="#4a8bdc"/>
<g clip-path="url(#casEc)">
<linearGradient id="casE2" gradientUnits="userSpaceOnUse" x1="300" y1="150" x2="420" y2="92"><stop offset="0" stop-color="#3a78cc"/><stop offset="0.45" stop-color="#5b9ae2"/><stop offset="1" stop-color="#8cbcf0"/></linearGradient>
<rect x="280" y="84" width="152" height="70" fill="url(#casE2)"/>
<circle cx="426.9" cy="417.2" r="327.0" fill="none" stroke="#e4f3fc" stroke-width="3.4" filter="url(#casB1)" opacity="0.95"/>
<circle cx="426.9" cy="417.2" r="323.1" fill="none" stroke="#b9dbf6" stroke-width="5" filter="url(#casB)" opacity="0.7"/>
<g filter="url(#casB1)">
<ellipse cx="352" cy="113" rx="30" ry="2.6" transform="rotate(-15 352 113)" fill="#f4faff" opacity="0.85"/>
<ellipse cx="384" cy="104" rx="24" ry="2.2" transform="rotate(-10 384 104)" fill="#f4faff" opacity="0.8"/>
<ellipse cx="330" cy="125" rx="20" ry="2.6" transform="rotate(-20 330 125)" fill="#f4faff" opacity="0.7"/>
<ellipse cx="372" cy="118" rx="22" ry="2.4" transform="rotate(-13 372 118)" fill="#f4faff" opacity="0.8"/>
<ellipse cx="398" cy="112" rx="14" ry="2.4" transform="rotate(-12 398 112)" fill="#f4faff" opacity="0.85"/>
<ellipse cx="412" cy="98" rx="12" ry="1.8" transform="rotate(-6 412 98)" fill="#f4faff" opacity="0.7"/>
<ellipse cx="345" cy="137" rx="22" ry="3" transform="rotate(-16 345 137)" fill="#f4faff" opacity="0.55"/>
<ellipse cx="392" cy="121" rx="9" ry="5" transform="rotate(-30 392 121)" fill="#f4faff" opacity="0.8"/>
<ellipse cx="318" cy="132" rx="12" ry="2.2" transform="rotate(-24 318 132)" fill="#f4faff" opacity="0.5"/>
<ellipse cx="360" cy="126" rx="16" ry="2.0" transform="rotate(-12 360 126)" fill="#f4faff" opacity="0.6"/>
</g>
<polygon points="386,132 398,127 410,122 404,138 396,148 390,141" fill="#2a62c2" opacity="0.9" filter="url(#casB1)"/>
<linearGradient id="casF" x1="0" y1="0" x2="0" y2="1"><stop offset="0" stop-color="#fff" stop-opacity="0"/><stop offset="1" stop-color="#fff" stop-opacity="0.85"/></linearGradient>
<rect x="300" y="132" width="80" height="17" fill="url(#casF)"/>
</g>
<path d="M314,150 L316,148.2 C335,146 350,140 360,134.6 C368,131.8 380,132.6 387,137.5 C392,141 396,145 398.5,148.6 L399,150 Z" fill="#fff"/>
<line x1="337.6" y1="50.6" x2="333.2" y2="30.2" stroke="#55585c" stroke-width="0.5" stroke-linecap="round"/>
<line x1="355.5" y1="52.5" x2="370.2" y2="44.9" stroke="#55585c" stroke-width="0.5" stroke-linecap="round"/>
<line x1="330.6" y1="65.9" x2="311.5" y2="75.5" stroke="#6b5a48" stroke-width="0.5" stroke-linecap="round"/>
<line x1="331.9" y1="80.3" x2="321.0" y2="77.7" stroke="#b0a89a" stroke-width="0.8" stroke-linecap="round"/>
<line x1="321.0" y1="77.7" x2="312.8" y2="76.8" stroke="#c9c2b4" stroke-width="0.9" stroke-linecap="round"/>
<ellipse cx="314.5" cy="77.0" rx="2.6" ry="1.1" fill="#ffb52e"/>
<line x1="345.9" y1="89.5" x2="335.7" y2="104.2" stroke="#b7753a" stroke-width="0.7" stroke-linecap="round"/>
<line x1="354.2" y1="87.6" x2="352.0" y2="96.5" stroke="#9a9fae" stroke-width="0.8" stroke-linecap="round"/>
<circle cx="335.2" cy="104.8" r="0.9" fill="#e08a2a"/>
<line x1="367.6" y1="80.6" x2="394.1" y2="120.4" stroke="#f4f8ff" stroke-width="1.1" stroke-linecap="round"/>
<polygon points="337.6,51.2 340.8,50.5 341.8,57.6 330.6,77.1 328.6,76.1" fill="#d27a22" />
<polygon points="340.3,51.2 341.6,57.8 330.5,77.0 329.5,76.1 338.3,53.8" fill="#2b62b4" />
<polygon points="340.3,50.1 350.4,51.4 372.7,69.1 369.8,71.1 356.8,66.9 341.8,57.6" fill="#2a72c9" />
<polygon points="357.4,68.5 373.3,71.0 364.1,89.2 347.8,89.6" fill="#d6a13e" />
<polygon points="359.3,71.0 368.9,72.0 366.3,77.4 361.2,76.1" fill="#3a2a12" />
<polygon points="357.4,77.4 363.1,77.7 360.6,83.1 355.5,82.8" fill="#cfe3ee" />
<polygon points="341.6,57.6 357.5,68.5 347.3,89.0 330.0,77.4" fill="#3385df" />
<line x1="341.8" y1="57.8" x2="357.4" y2="68.5" stroke="#e0a86a" stroke-width="0.5" stroke-linecap="round"/>
<circle cx="357.1" cy="132.9" r="6.2" fill="#1a63c4"/>
<path d="M353.6,133.6 L357.1,128.6 L360.6,133.6 M354.6,131.8 Q357.1,130.2 359.6,131.8" fill="none" stroke="#e8f1fb" stroke-width="0.7"/>
<rect x="354.3" y="135.1" width="5.6" height="1.5" fill="#e8f1fb"/>
<circle cx="357.1" cy="132.6" r="0.7" fill="#e03a3a"/>
<circle cx="323.2" cy="43.4" r="1.5" fill="#9a93f0"/>
<circle cx="293.2" cy="82.6" r="1.3" fill="#7d78d8"/>
<circle cx="367" cy="36" r="0.5" fill="#888"/>
<circle cx="377" cy="33" r="0.5" fill="#777"/>
<circle cx="392" cy="62" r="0.5" fill="#999"/>
<circle cx="395" cy="66" r="0.4" fill="#777"/>
<circle cx="341" cy="29" r="0.4" fill="#777"/>
<circle cx="331" cy="49" r="0.4" fill="#888"/>
<circle cx="385" cy="27" r="0.4" fill="#888"/>
<circle cx="406" cy="70" r="0.4" fill="#888"/>
<circle cx="352" cy="40" r="0.4" fill="#666"/>
<circle cx="377" cy="77" r="0.4" fill="#888"/>
<circle cx="316" cy="59" r="0.4" fill="#666"/>
</g>
<text x="326.75" y="149.60" font-size="6.40" font-weight="bold" textLength="59.82" lengthAdjust="spacingAndGlyphs" fill="#27b3ea">CASSIOPE</text>
</g>
</svg>
</body></html>
